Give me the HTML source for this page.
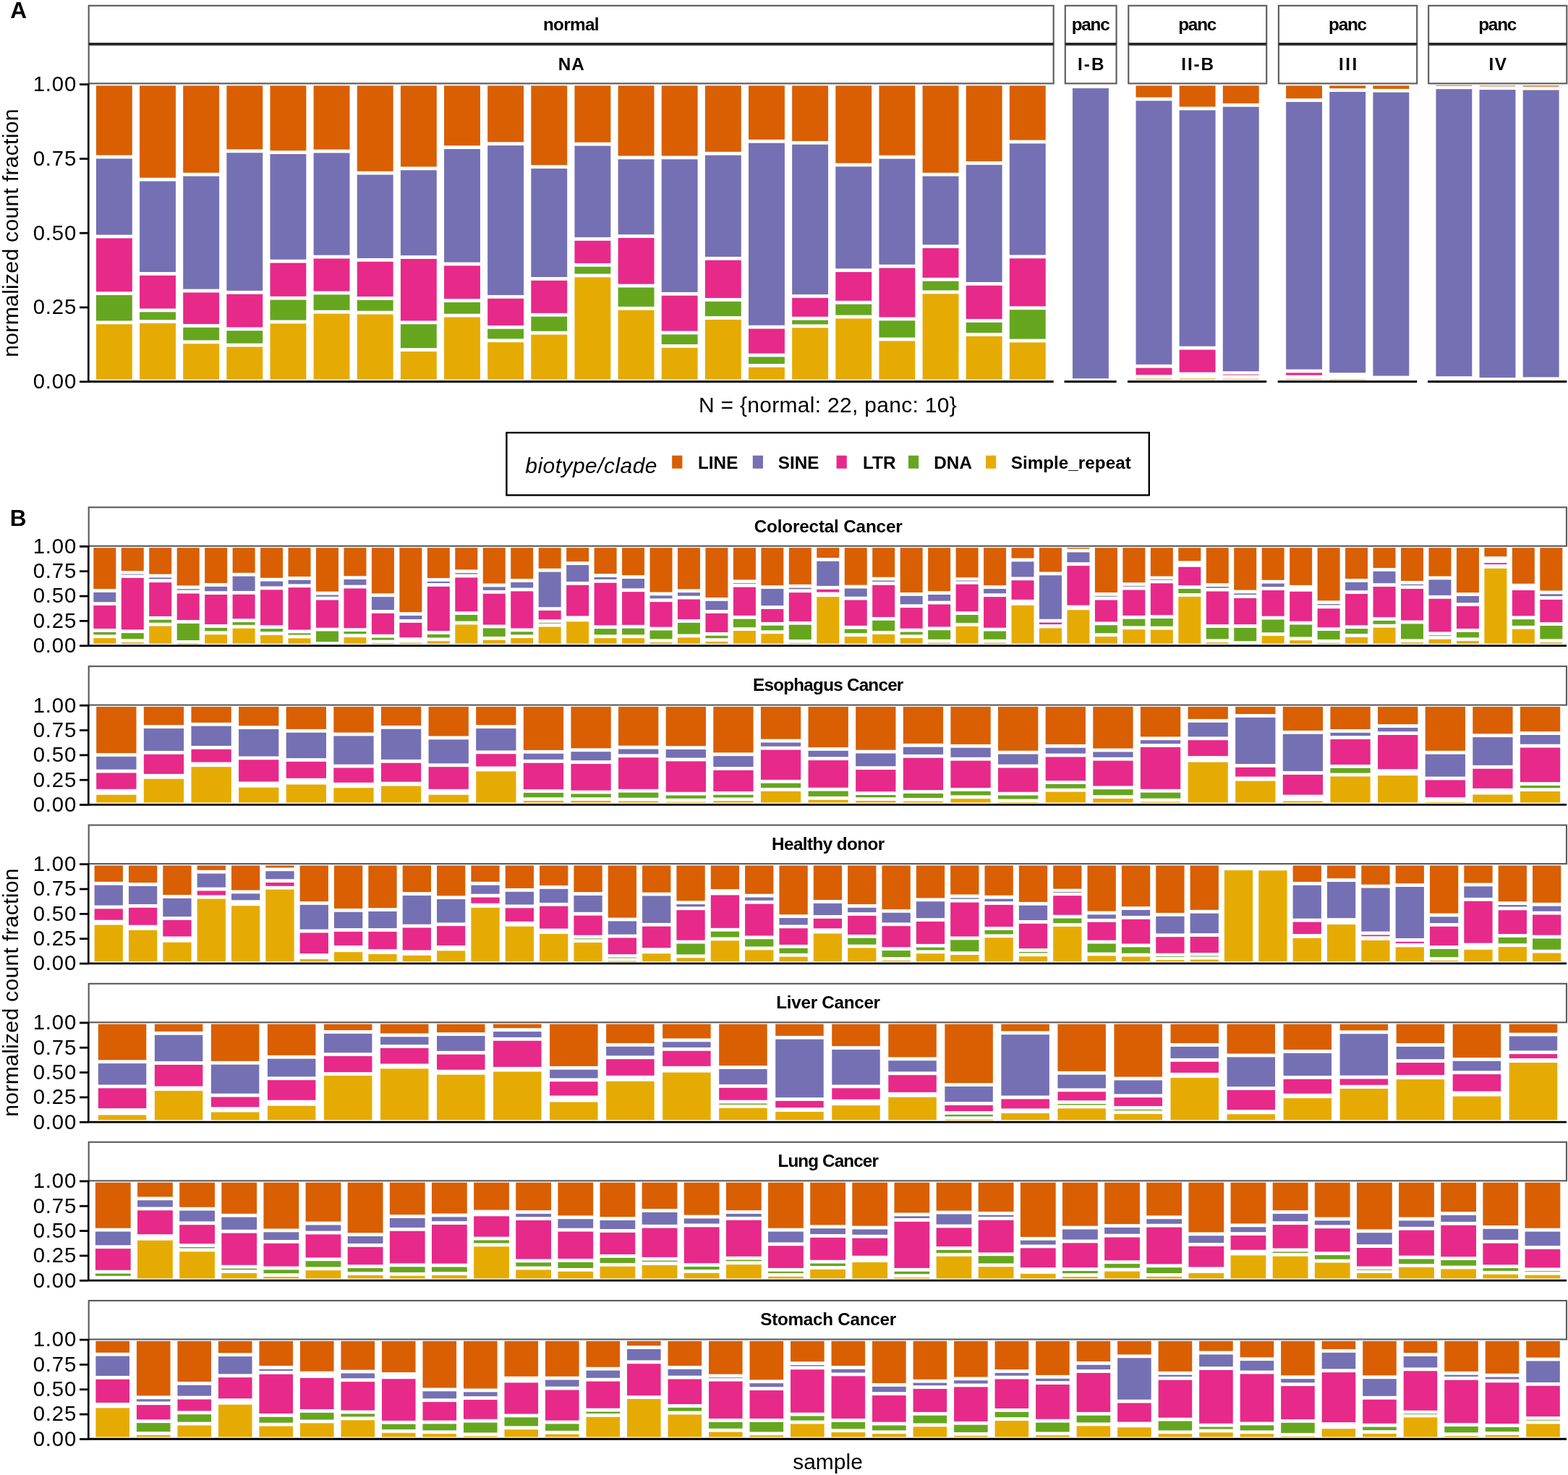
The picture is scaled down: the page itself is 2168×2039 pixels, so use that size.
<!DOCTYPE html>
<html><head><meta charset="utf-8"><title>Repeat element composition</title>
<style>html,body{margin:0;padding:0;background:#fff;}body{width:2168px;height:2039px;overflow:hidden;}svg{display:block;}</style>
</head><body>
<svg width="2168" height="2039" viewBox="0 0 2168 2039">
<rect x="0" y="0" width="2168" height="2039" fill="#ffffff"/>
<text x="14.2" y="24.9" font-family="'Liberation Sans', Arial, Helvetica, sans-serif" font-weight="bold" font-size="31.5">A</text>
<rect x="122.7" y="7.8" width="1334" height="52.4" fill="#fff" stroke="#5a5a5a" stroke-width="2.1"/>
<rect x="122.7" y="62.2" width="1334" height="53.2" fill="#fff" stroke="#5a5a5a" stroke-width="2.1"/>
<line x1="122.7" y1="60.6" x2="1456.7" y2="60.6" stroke="#222" stroke-width="2.6"/>
<text x="789.35" y="41.8" text-anchor="middle" font-family="'Liberation Sans', Arial, Helvetica, sans-serif" font-weight="bold" font-size="24.3" letter-spacing="-0.7">normal</text>
<text x="790.2" y="96.8" text-anchor="middle" font-family="'Liberation Sans', Arial, Helvetica, sans-serif" font-weight="bold" font-size="24.3" letter-spacing="1">NA</text>
<rect x="132.92" y="118.4" width="49.9" height="96.12" fill="#D95F02"/>
<rect x="132.92" y="219.32" width="49.9" height="105.26" fill="#7570B3"/>
<rect x="132.92" y="329.38" width="49.9" height="73.82" fill="#E7298A"/>
<rect x="132.92" y="408" width="49.9" height="35.41" fill="#66A61E"/>
<rect x="132.92" y="448.2" width="49.9" height="76.4" fill="#E6AB02"/>
<rect x="193.06" y="118.4" width="49.9" height="127.34" fill="#D95F02"/>
<rect x="193.06" y="250.54" width="49.9" height="125.48" fill="#7570B3"/>
<rect x="193.06" y="380.82" width="49.9" height="45.74" fill="#E7298A"/>
<rect x="193.06" y="431.36" width="49.9" height="10.7" fill="#66A61E"/>
<rect x="193.06" y="446.86" width="49.9" height="77.74" fill="#E6AB02"/>
<rect x="253.2" y="118.4" width="49.9" height="120.38" fill="#D95F02"/>
<rect x="253.2" y="243.58" width="49.9" height="156.03" fill="#7570B3"/>
<rect x="253.2" y="404.4" width="49.9" height="43.49" fill="#E7298A"/>
<rect x="253.2" y="452.7" width="49.9" height="17.66" fill="#66A61E"/>
<rect x="253.2" y="475.16" width="49.9" height="49.44" fill="#E6AB02"/>
<rect x="313.34" y="118.4" width="49.9" height="88.03" fill="#D95F02"/>
<rect x="313.34" y="211.23" width="49.9" height="190.62" fill="#7570B3"/>
<rect x="313.34" y="406.65" width="49.9" height="45.74" fill="#E7298A"/>
<rect x="313.34" y="457.19" width="49.9" height="17.44" fill="#66A61E"/>
<rect x="313.34" y="479.43" width="49.9" height="45.17" fill="#E6AB02"/>
<rect x="373.48" y="118.4" width="49.9" height="89.83" fill="#D95F02"/>
<rect x="373.48" y="213.03" width="49.9" height="145.69" fill="#7570B3"/>
<rect x="373.48" y="363.52" width="49.9" height="46.19" fill="#E7298A"/>
<rect x="373.48" y="414.51" width="49.9" height="27.99" fill="#66A61E"/>
<rect x="373.48" y="447.31" width="49.9" height="77.29" fill="#E6AB02"/>
<rect x="433.62" y="118.4" width="49.9" height="88.26" fill="#D95F02"/>
<rect x="433.62" y="211.46" width="49.9" height="141.2" fill="#7570B3"/>
<rect x="433.62" y="357.46" width="49.9" height="45.07" fill="#E7298A"/>
<rect x="433.62" y="407.32" width="49.9" height="21.48" fill="#66A61E"/>
<rect x="433.62" y="433.6" width="49.9" height="91" fill="#E6AB02"/>
<rect x="493.76" y="118.4" width="49.9" height="118.36" fill="#D95F02"/>
<rect x="493.76" y="241.56" width="49.9" height="115.37" fill="#7570B3"/>
<rect x="493.76" y="361.73" width="49.9" height="48.21" fill="#E7298A"/>
<rect x="493.76" y="414.74" width="49.9" height="14.97" fill="#66A61E"/>
<rect x="493.76" y="434.5" width="49.9" height="90.1" fill="#E6AB02"/>
<rect x="553.9" y="118.4" width="49.9" height="112.07" fill="#D95F02"/>
<rect x="553.9" y="235.27" width="49.9" height="117.84" fill="#7570B3"/>
<rect x="553.9" y="357.91" width="49.9" height="85.5" fill="#E7298A"/>
<rect x="553.9" y="448.2" width="49.9" height="32.94" fill="#66A61E"/>
<rect x="553.9" y="485.94" width="49.9" height="38.66" fill="#E6AB02"/>
<rect x="614.04" y="118.4" width="49.9" height="82.87" fill="#D95F02"/>
<rect x="614.04" y="206.07" width="49.9" height="156.48" fill="#7570B3"/>
<rect x="614.04" y="367.34" width="49.9" height="45.74" fill="#E7298A"/>
<rect x="614.04" y="417.88" width="49.9" height="15.86" fill="#66A61E"/>
<rect x="614.04" y="438.55" width="49.9" height="86.05" fill="#E6AB02"/>
<rect x="674.18" y="118.4" width="49.9" height="77.92" fill="#D95F02"/>
<rect x="674.18" y="201.12" width="49.9" height="206.79" fill="#7570B3"/>
<rect x="674.18" y="412.71" width="49.9" height="37.2" fill="#E7298A"/>
<rect x="674.18" y="454.72" width="49.9" height="13.62" fill="#66A61E"/>
<rect x="674.18" y="473.14" width="49.9" height="51.46" fill="#E6AB02"/>
<rect x="734.32" y="118.4" width="49.9" height="109.82" fill="#D95F02"/>
<rect x="734.32" y="233.02" width="49.9" height="149.96" fill="#7570B3"/>
<rect x="734.32" y="387.78" width="49.9" height="45.07" fill="#E7298A"/>
<rect x="734.32" y="437.65" width="49.9" height="20.13" fill="#66A61E"/>
<rect x="734.32" y="462.58" width="49.9" height="62.02" fill="#E6AB02"/>
<rect x="794.46" y="118.4" width="49.9" height="78.37" fill="#D95F02"/>
<rect x="794.46" y="201.57" width="49.9" height="126.38" fill="#7570B3"/>
<rect x="794.46" y="332.75" width="49.9" height="31.14" fill="#E7298A"/>
<rect x="794.46" y="368.69" width="49.9" height="9.8" fill="#66A61E"/>
<rect x="794.46" y="383.29" width="49.9" height="141.31" fill="#E6AB02"/>
<rect x="854.6" y="118.4" width="49.9" height="97.02" fill="#D95F02"/>
<rect x="854.6" y="220.22" width="49.9" height="103.92" fill="#7570B3"/>
<rect x="854.6" y="328.93" width="49.9" height="63.71" fill="#E7298A"/>
<rect x="854.6" y="397.44" width="49.9" height="26.42" fill="#66A61E"/>
<rect x="854.6" y="428.66" width="49.9" height="95.94" fill="#E6AB02"/>
<rect x="914.74" y="118.4" width="49.9" height="97.02" fill="#D95F02"/>
<rect x="914.74" y="220.22" width="49.9" height="183.65" fill="#7570B3"/>
<rect x="914.74" y="408.67" width="49.9" height="48.88" fill="#E7298A"/>
<rect x="914.74" y="462.36" width="49.9" height="13.62" fill="#66A61E"/>
<rect x="914.74" y="480.77" width="49.9" height="43.83" fill="#E6AB02"/>
<rect x="974.88" y="118.4" width="49.9" height="91.4" fill="#D95F02"/>
<rect x="974.88" y="214.6" width="49.9" height="140.3" fill="#7570B3"/>
<rect x="974.88" y="359.7" width="49.9" height="52.25" fill="#E7298A"/>
<rect x="974.88" y="416.76" width="49.9" height="20.36" fill="#66A61E"/>
<rect x="974.88" y="441.91" width="49.9" height="82.69" fill="#E6AB02"/>
<rect x="1035.02" y="118.4" width="49.9" height="74.55" fill="#D95F02"/>
<rect x="1035.02" y="197.75" width="49.9" height="251.94" fill="#7570B3"/>
<rect x="1035.02" y="454.49" width="49.9" height="34.06" fill="#E7298A"/>
<rect x="1035.02" y="493.35" width="49.9" height="9.58" fill="#66A61E"/>
<rect x="1035.02" y="507.73" width="49.9" height="16.87" fill="#E6AB02"/>
<rect x="1095.16" y="118.4" width="49.9" height="76.58" fill="#D95F02"/>
<rect x="1095.16" y="199.78" width="49.9" height="207.24" fill="#7570B3"/>
<rect x="1095.16" y="411.82" width="49.9" height="25.97" fill="#E7298A"/>
<rect x="1095.16" y="442.59" width="49.9" height="5.76" fill="#66A61E"/>
<rect x="1095.16" y="453.15" width="49.9" height="71.45" fill="#E6AB02"/>
<rect x="1155.3" y="118.4" width="49.9" height="107.12" fill="#D95F02"/>
<rect x="1155.3" y="230.32" width="49.9" height="140.98" fill="#7570B3"/>
<rect x="1155.3" y="376.1" width="49.9" height="39.67" fill="#E7298A"/>
<rect x="1155.3" y="420.58" width="49.9" height="14.97" fill="#66A61E"/>
<rect x="1155.3" y="440.34" width="49.9" height="84.26" fill="#E6AB02"/>
<rect x="1215.44" y="118.4" width="49.9" height="96.34" fill="#D95F02"/>
<rect x="1215.44" y="219.54" width="49.9" height="146.14" fill="#7570B3"/>
<rect x="1215.44" y="370.49" width="49.9" height="67.98" fill="#E7298A"/>
<rect x="1215.44" y="443.26" width="49.9" height="23.28" fill="#66A61E"/>
<rect x="1215.44" y="471.34" width="49.9" height="53.26" fill="#E6AB02"/>
<rect x="1275.58" y="118.4" width="49.9" height="120.38" fill="#D95F02"/>
<rect x="1275.58" y="243.58" width="49.9" height="94.71" fill="#7570B3"/>
<rect x="1275.58" y="343.08" width="49.9" height="40.8" fill="#E7298A"/>
<rect x="1275.58" y="388.68" width="49.9" height="12.72" fill="#66A61E"/>
<rect x="1275.58" y="406.2" width="49.9" height="118.4" fill="#E6AB02"/>
<rect x="1335.72" y="118.4" width="49.9" height="104.65" fill="#D95F02"/>
<rect x="1335.72" y="227.85" width="49.9" height="162.09" fill="#7570B3"/>
<rect x="1335.72" y="394.75" width="49.9" height="46.19" fill="#E7298A"/>
<rect x="1335.72" y="445.73" width="49.9" height="14.29" fill="#66A61E"/>
<rect x="1335.72" y="464.83" width="49.9" height="59.77" fill="#E6AB02"/>
<rect x="1395.86" y="118.4" width="49.9" height="75.23" fill="#D95F02"/>
<rect x="1395.86" y="198.43" width="49.9" height="154.01" fill="#7570B3"/>
<rect x="1395.86" y="357.23" width="49.9" height="66.18" fill="#E7298A"/>
<rect x="1395.86" y="428.21" width="49.9" height="40.35" fill="#66A61E"/>
<rect x="1395.86" y="473.36" width="49.9" height="51.24" fill="#E6AB02"/>
<line x1="121.5" y1="527.5" x2="1456.7" y2="527.5" stroke="#000" stroke-width="2.9"/>
<rect x="1472.8" y="7.8" width="70.8" height="52.4" fill="#fff" stroke="#5a5a5a" stroke-width="2.1"/>
<rect x="1472.8" y="62.2" width="70.8" height="53.2" fill="#fff" stroke="#5a5a5a" stroke-width="2.1"/>
<line x1="1472.8" y1="60.6" x2="1543.6" y2="60.6" stroke="#222" stroke-width="2.6"/>
<text x="1507.6" y="41.8" text-anchor="middle" font-family="'Liberation Sans', Arial, Helvetica, sans-serif" font-weight="bold" font-size="24.3" letter-spacing="-1.2">panc</text>
<text x="1509.25" y="96.8" text-anchor="middle" font-family="'Liberation Sans', Arial, Helvetica, sans-serif" font-weight="bold" font-size="24.3" letter-spacing="2.1">I-B</text>
<rect x="1483.02" y="122.06" width="49.9" height="401.08" fill="#7570B3"/>
<line x1="1471.6" y1="527.5" x2="1543.6" y2="527.5" stroke="#000" stroke-width="2.9"/>
<rect x="1560.3" y="7.8" width="190.9" height="52.4" fill="#fff" stroke="#5a5a5a" stroke-width="2.1"/>
<rect x="1560.3" y="62.2" width="190.9" height="53.2" fill="#fff" stroke="#5a5a5a" stroke-width="2.1"/>
<line x1="1560.3" y1="60.6" x2="1751.2" y2="60.6" stroke="#222" stroke-width="2.6"/>
<text x="1655.15" y="41.8" text-anchor="middle" font-family="'Liberation Sans', Arial, Helvetica, sans-serif" font-weight="bold" font-size="24.3" letter-spacing="-1.2">panc</text>
<text x="1656.7" y="96.8" text-anchor="middle" font-family="'Liberation Sans', Arial, Helvetica, sans-serif" font-weight="bold" font-size="24.3" letter-spacing="1.9">II-B</text>
<rect x="1570.52" y="118.4" width="49.9" height="16.15" fill="#D95F02"/>
<rect x="1570.52" y="139.35" width="49.9" height="364.47" fill="#7570B3"/>
<rect x="1570.52" y="508.63" width="49.9" height="9.58" fill="#E7298A"/>
<rect x="1570.52" y="523.45" width="49.9" height="1.15" fill="#E6AB02"/>
<rect x="1630.66" y="118.4" width="49.9" height="29.18" fill="#D95F02"/>
<rect x="1630.66" y="152.38" width="49.9" height="326.29" fill="#7570B3"/>
<rect x="1630.66" y="483.47" width="49.9" height="31.14" fill="#E7298A"/>
<rect x="1630.66" y="523.45" width="49.9" height="1.15" fill="#E6AB02"/>
<rect x="1690.8" y="118.4" width="49.9" height="24.47" fill="#D95F02"/>
<rect x="1690.8" y="147.67" width="49.9" height="365.6" fill="#7570B3"/>
<rect x="1690.8" y="517.53" width="49.9" height="1.2" fill="#E7298A" opacity="0.75"/>
<rect x="1690.8" y="523.65" width="49.9" height="1.2" fill="#E6AB02" opacity="0.75"/>
<line x1="1559.1" y1="527.5" x2="1751.2" y2="527.5" stroke="#000" stroke-width="2.9"/>
<rect x="1767.9" y="7.8" width="191.3" height="52.4" fill="#fff" stroke="#5a5a5a" stroke-width="2.1"/>
<rect x="1767.9" y="62.2" width="191.3" height="53.2" fill="#fff" stroke="#5a5a5a" stroke-width="2.1"/>
<line x1="1767.9" y1="60.6" x2="1959.2" y2="60.6" stroke="#222" stroke-width="2.6"/>
<text x="1862.95" y="41.8" text-anchor="middle" font-family="'Liberation Sans', Arial, Helvetica, sans-serif" font-weight="bold" font-size="24.3" letter-spacing="-1.2">panc</text>
<text x="1864.8" y="96.8" text-anchor="middle" font-family="'Liberation Sans', Arial, Helvetica, sans-serif" font-weight="bold" font-size="24.3" letter-spacing="2.5">III</text>
<rect x="1778.12" y="118.4" width="49.9" height="17.73" fill="#D95F02"/>
<rect x="1778.12" y="140.93" width="49.9" height="369.64" fill="#7570B3"/>
<rect x="1778.12" y="515.36" width="49.9" height="3.29" fill="#E7298A"/>
<rect x="1778.12" y="523.87" width="49.9" height="1.2" fill="#E6AB02" opacity="0.75"/>
<rect x="1838.26" y="118.4" width="49.9" height="3.8" fill="#D95F02"/>
<rect x="1838.26" y="127" width="49.9" height="388.28" fill="#7570B3"/>
<rect x="1838.26" y="524.1" width="49.9" height="1.2" fill="#E6AB02" opacity="0.75"/>
<rect x="1898.4" y="118.4" width="49.9" height="4.47" fill="#D95F02"/>
<rect x="1898.4" y="127.67" width="49.9" height="391.88" fill="#7570B3"/>
<line x1="1766.7" y1="527.5" x2="1959.2" y2="527.5" stroke="#000" stroke-width="2.9"/>
<rect x="1975.2" y="7.8" width="191.1" height="52.4" fill="#fff" stroke="#5a5a5a" stroke-width="2.1"/>
<rect x="1975.2" y="62.2" width="191.1" height="53.2" fill="#fff" stroke="#5a5a5a" stroke-width="2.1"/>
<line x1="1975.2" y1="60.6" x2="2166.3" y2="60.6" stroke="#222" stroke-width="2.6"/>
<text x="2070.15" y="41.8" text-anchor="middle" font-family="'Liberation Sans', Arial, Helvetica, sans-serif" font-weight="bold" font-size="24.3" letter-spacing="-1.2">panc</text>
<text x="2071.55" y="96.8" text-anchor="middle" font-family="'Liberation Sans', Arial, Helvetica, sans-serif" font-weight="bold" font-size="24.3" letter-spacing="1.6">IV</text>
<rect x="1985.42" y="117.79" width="49.9" height="1.2" fill="#D95F02" opacity="0.75"/>
<rect x="1985.42" y="123.18" width="49.9" height="397.04" fill="#7570B3"/>
<rect x="2045.56" y="118.24" width="49.9" height="1.2" fill="#D95F02" opacity="0.75"/>
<rect x="2045.56" y="124.08" width="49.9" height="397.94" fill="#7570B3"/>
<rect x="2105.7" y="118.4" width="49.9" height="1.33" fill="#D95F02"/>
<rect x="2105.7" y="124.53" width="49.9" height="396.82" fill="#7570B3"/>
<line x1="1974" y1="527.5" x2="2166.3" y2="527.5" stroke="#000" stroke-width="2.9"/>
<line x1="122.3" y1="115.5" x2="122.3" y2="528.3" stroke="#000" stroke-width="2.6"/>
<line x1="110" y1="527.7" x2="122" y2="527.7" stroke="#000" stroke-width="2.8"/>
<text x="106" y="537" text-anchor="end" font-family="'Liberation Sans', Arial, Helvetica, sans-serif" font-size="29.3" letter-spacing="0.8">0.00</text>
<line x1="110" y1="424.95" x2="122" y2="424.95" stroke="#000" stroke-width="2.8"/>
<text x="106" y="434.25" text-anchor="end" font-family="'Liberation Sans', Arial, Helvetica, sans-serif" font-size="29.3" letter-spacing="0.8">0.25</text>
<line x1="110" y1="322.2" x2="122" y2="322.2" stroke="#000" stroke-width="2.8"/>
<text x="106" y="331.5" text-anchor="end" font-family="'Liberation Sans', Arial, Helvetica, sans-serif" font-size="29.3" letter-spacing="0.8">0.50</text>
<line x1="110" y1="219.45" x2="122" y2="219.45" stroke="#000" stroke-width="2.8"/>
<text x="106" y="228.75" text-anchor="end" font-family="'Liberation Sans', Arial, Helvetica, sans-serif" font-size="29.3" letter-spacing="0.8">0.75</text>
<line x1="110" y1="116.7" x2="122" y2="116.7" stroke="#000" stroke-width="2.8"/>
<text x="106" y="126" text-anchor="end" font-family="'Liberation Sans', Arial, Helvetica, sans-serif" font-size="29.3" letter-spacing="0.8">1.00</text>
<text transform="translate(25.0,322.0) rotate(-90)" text-anchor="middle" font-family="'Liberation Sans', Arial, Helvetica, sans-serif" font-size="30.3" letter-spacing="0.2">normalized count fraction</text>
<text x="1144.5" y="569.6" text-anchor="middle" font-family="'Liberation Sans', Arial, Helvetica, sans-serif" font-size="30" letter-spacing="0.3">N = {normal: 22, panc: 10}</text>
<rect x="700.4" y="598.1" width="888.4" height="86.4" fill="#fff" stroke="#000" stroke-width="2.4"/>
<text x="726.3" y="653.8" font-family="'Liberation Sans', Arial, Helvetica, sans-serif" font-style="italic" font-size="30" letter-spacing="0.45">biotype/clade</text>
<rect x="929.2" y="629.7" width="14.2" height="18" fill="#D95F02"/>
<text x="965" y="647.5" font-family="'Liberation Sans', Arial, Helvetica, sans-serif" font-weight="bold" font-size="24.3">LINE</text>
<rect x="1040.8" y="629.7" width="14.2" height="18" fill="#7570B3"/>
<text x="1075.7" y="647.5" font-family="'Liberation Sans', Arial, Helvetica, sans-serif" font-weight="bold" font-size="24.3">SINE</text>
<rect x="1156.6" y="629.7" width="14.2" height="18" fill="#E7298A"/>
<text x="1193" y="647.5" font-family="'Liberation Sans', Arial, Helvetica, sans-serif" font-weight="bold" font-size="24.3">LTR</text>
<rect x="1256" y="629.7" width="14.2" height="18" fill="#66A61E"/>
<text x="1291.3" y="647.5" font-family="'Liberation Sans', Arial, Helvetica, sans-serif" font-weight="bold" font-size="24.3">DNA</text>
<rect x="1363" y="629.7" width="14.2" height="18" fill="#E6AB02"/>
<text x="1397.7" y="647.5" font-family="'Liberation Sans', Arial, Helvetica, sans-serif" font-weight="bold" font-size="24.3">Simple_repeat</text>
<text x="13.8" y="726.8" font-family="'Liberation Sans', Arial, Helvetica, sans-serif" font-weight="bold" font-size="31.5">B</text>
<rect x="122.7" y="701.3" width="2043.3" height="53.5" fill="#fff" stroke="#5a5a5a" stroke-width="2.1"/>
<text x="1145.11" y="735.6" text-anchor="middle" font-family="'Liberation Sans', Arial, Helvetica, sans-serif" font-weight="bold" font-size="24.3" letter-spacing="-0.19">Colorectal Cancer</text>
<rect x="129.3" y="757.2" width="31" height="56.9" fill="#D95F02"/>
<rect x="129.3" y="818.9" width="31" height="13.33" fill="#7570B3"/>
<rect x="129.3" y="837.04" width="31" height="31.99" fill="#E7298A"/>
<rect x="129.3" y="873.82" width="31" height="3.49" fill="#66A61E"/>
<rect x="129.3" y="882.12" width="31" height="7.63" fill="#E6AB02"/>
<rect x="167.76" y="757.2" width="31" height="32.03" fill="#D95F02"/>
<rect x="167.76" y="793.49" width="31" height="1.2" fill="#7570B3" opacity="0.75"/>
<rect x="167.76" y="798.95" width="31" height="71.37" fill="#E7298A"/>
<rect x="167.76" y="875.12" width="31" height="8.15" fill="#66A61E"/>
<rect x="167.76" y="888.07" width="31" height="1.68" fill="#E6AB02"/>
<rect x="206.22" y="757.2" width="31" height="36.44" fill="#D95F02"/>
<rect x="206.22" y="798.44" width="31" height="1.94" fill="#7570B3"/>
<rect x="206.22" y="805.17" width="31" height="46.75" fill="#E7298A"/>
<rect x="206.22" y="856.73" width="31" height="4.01" fill="#66A61E"/>
<rect x="206.22" y="865.53" width="31" height="24.22" fill="#E6AB02"/>
<rect x="244.68" y="757.2" width="31" height="52.24" fill="#D95F02"/>
<rect x="244.68" y="814.24" width="31" height="1.42" fill="#7570B3"/>
<rect x="244.68" y="820.46" width="31" height="36.65" fill="#E7298A"/>
<rect x="244.68" y="861.91" width="31" height="23.18" fill="#66A61E"/>
<rect x="244.68" y="889.22" width="31" height="1.2" fill="#E6AB02" opacity="0.75"/>
<rect x="283.15" y="757.2" width="31" height="48.87" fill="#D95F02"/>
<rect x="283.15" y="810.87" width="31" height="6.34" fill="#7570B3"/>
<rect x="283.15" y="822.01" width="31" height="41.05" fill="#E7298A"/>
<rect x="283.15" y="867.87" width="31" height="4.53" fill="#66A61E"/>
<rect x="283.15" y="877.19" width="31" height="12.56" fill="#E6AB02"/>
<rect x="321.61" y="757.2" width="31" height="34.62" fill="#D95F02"/>
<rect x="321.61" y="796.62" width="31" height="20.33" fill="#7570B3"/>
<rect x="321.61" y="821.75" width="31" height="33.54" fill="#E7298A"/>
<rect x="321.61" y="860.09" width="31" height="3.75" fill="#66A61E"/>
<rect x="321.61" y="868.64" width="31" height="21.11" fill="#E6AB02"/>
<rect x="360.07" y="757.2" width="31" height="41.62" fill="#D95F02"/>
<rect x="360.07" y="803.62" width="31" height="6.86" fill="#7570B3"/>
<rect x="360.07" y="815.28" width="31" height="49.09" fill="#E7298A"/>
<rect x="360.07" y="869.16" width="31" height="4.01" fill="#66A61E"/>
<rect x="360.07" y="877.97" width="31" height="11.78" fill="#E6AB02"/>
<rect x="398.53" y="757.2" width="31" height="39.8" fill="#D95F02"/>
<rect x="398.53" y="801.8" width="31" height="5.56" fill="#7570B3"/>
<rect x="398.53" y="812.17" width="31" height="58.41" fill="#E7298A"/>
<rect x="398.53" y="875.38" width="31" height="2.19" fill="#66A61E"/>
<rect x="398.53" y="882.37" width="31" height="7.38" fill="#E6AB02"/>
<rect x="436.99" y="757.2" width="31" height="60.53" fill="#D95F02"/>
<rect x="436.99" y="822.53" width="31" height="2.19" fill="#7570B3"/>
<rect x="436.99" y="829.52" width="31" height="38.21" fill="#E7298A"/>
<rect x="436.99" y="872.53" width="31" height="14.63" fill="#66A61E"/>
<rect x="475.45" y="757.2" width="31" height="39.03" fill="#D95F02"/>
<rect x="475.45" y="801.03" width="31" height="7.64" fill="#7570B3"/>
<rect x="475.45" y="813.46" width="31" height="54.79" fill="#E7298A"/>
<rect x="475.45" y="873.05" width="31" height="3.23" fill="#66A61E"/>
<rect x="475.45" y="881.08" width="31" height="8.67" fill="#E6AB02"/>
<rect x="513.92" y="757.2" width="31" height="63.12" fill="#D95F02"/>
<rect x="513.92" y="825.12" width="31" height="18" fill="#7570B3"/>
<rect x="513.92" y="847.92" width="31" height="28.88" fill="#E7298A"/>
<rect x="513.92" y="881.6" width="31" height="2.97" fill="#66A61E"/>
<rect x="513.92" y="888.96" width="31" height="1.2" fill="#E6AB02" opacity="0.75"/>
<rect x="552.38" y="757.2" width="31" height="89.03" fill="#D95F02"/>
<rect x="552.38" y="851.03" width="31" height="5.04" fill="#7570B3"/>
<rect x="552.38" y="860.87" width="31" height="20.33" fill="#E7298A"/>
<rect x="552.38" y="888.59" width="31" height="1.16" fill="#E6AB02"/>
<rect x="590.84" y="757.2" width="31" height="41.88" fill="#D95F02"/>
<rect x="590.84" y="803.88" width="31" height="2.19" fill="#7570B3"/>
<rect x="590.84" y="810.87" width="31" height="61.26" fill="#E7298A"/>
<rect x="590.84" y="876.93" width="31" height="4.53" fill="#66A61E"/>
<rect x="590.84" y="886.26" width="31" height="3.49" fill="#E6AB02"/>
<rect x="629.3" y="757.2" width="31" height="30.22" fill="#D95F02"/>
<rect x="629.3" y="792.22" width="31" height="1.42" fill="#7570B3"/>
<rect x="629.3" y="798.44" width="31" height="46.75" fill="#E7298A"/>
<rect x="629.3" y="849.99" width="31" height="8.67" fill="#66A61E"/>
<rect x="629.3" y="863.46" width="31" height="26.29" fill="#E6AB02"/>
<rect x="667.76" y="757.2" width="31" height="49.39" fill="#D95F02"/>
<rect x="667.76" y="811.39" width="31" height="4.53" fill="#7570B3"/>
<rect x="667.76" y="820.72" width="31" height="42.87" fill="#E7298A"/>
<rect x="667.76" y="868.38" width="31" height="11.52" fill="#66A61E"/>
<rect x="667.76" y="884.71" width="31" height="5.04" fill="#E6AB02"/>
<rect x="706.22" y="757.2" width="31" height="42.91" fill="#D95F02"/>
<rect x="706.22" y="804.91" width="31" height="7.64" fill="#7570B3"/>
<rect x="706.22" y="817.35" width="31" height="51.16" fill="#E7298A"/>
<rect x="706.22" y="873.31" width="31" height="4.01" fill="#66A61E"/>
<rect x="706.22" y="882.12" width="31" height="7.63" fill="#E6AB02"/>
<rect x="744.68" y="757.2" width="31" height="28.66" fill="#D95F02"/>
<rect x="744.68" y="790.66" width="31" height="48.57" fill="#7570B3"/>
<rect x="744.68" y="844.03" width="31" height="12.3" fill="#E7298A"/>
<rect x="744.68" y="860.85" width="31" height="1.2" fill="#66A61E" opacity="0.75"/>
<rect x="744.68" y="866.57" width="31" height="23.18" fill="#E6AB02"/>
<rect x="783.15" y="757.2" width="31" height="19.08" fill="#D95F02"/>
<rect x="783.15" y="781.08" width="31" height="22.92" fill="#7570B3"/>
<rect x="783.15" y="808.8" width="31" height="42.61" fill="#E7298A"/>
<rect x="783.15" y="859.32" width="31" height="30.43" fill="#E6AB02"/>
<rect x="821.61" y="757.2" width="31" height="35.92" fill="#D95F02"/>
<rect x="821.61" y="797.92" width="31" height="2.97" fill="#7570B3"/>
<rect x="821.61" y="805.69" width="31" height="58.67" fill="#E7298A"/>
<rect x="821.61" y="869.16" width="31" height="8.15" fill="#66A61E"/>
<rect x="821.61" y="882.12" width="31" height="7.63" fill="#E6AB02"/>
<rect x="860.07" y="757.2" width="31" height="37.99" fill="#D95F02"/>
<rect x="860.07" y="799.99" width="31" height="13.33" fill="#7570B3"/>
<rect x="860.07" y="818.13" width="31" height="45.72" fill="#E7298A"/>
<rect x="860.07" y="868.64" width="31" height="8.67" fill="#66A61E"/>
<rect x="860.07" y="882.12" width="31" height="7.63" fill="#E6AB02"/>
<rect x="898.53" y="757.2" width="31" height="61.31" fill="#D95F02"/>
<rect x="898.53" y="823.31" width="31" height="4.01" fill="#7570B3"/>
<rect x="898.53" y="832.12" width="31" height="34.58" fill="#E7298A"/>
<rect x="898.53" y="871.49" width="31" height="11.78" fill="#66A61E"/>
<rect x="898.53" y="888.07" width="31" height="1.68" fill="#E6AB02"/>
<rect x="936.99" y="757.2" width="31" height="57.16" fill="#D95F02"/>
<rect x="936.99" y="819.16" width="31" height="4.53" fill="#7570B3"/>
<rect x="936.99" y="828.49" width="31" height="27.58" fill="#E7298A"/>
<rect x="936.99" y="860.87" width="31" height="15.67" fill="#66A61E"/>
<rect x="936.99" y="881.34" width="31" height="8.41" fill="#E6AB02"/>
<rect x="975.45" y="757.2" width="31" height="68.82" fill="#D95F02"/>
<rect x="975.45" y="830.82" width="31" height="12.3" fill="#7570B3"/>
<rect x="975.45" y="847.92" width="31" height="26.03" fill="#E7298A"/>
<rect x="975.45" y="878.75" width="31" height="3.49" fill="#66A61E"/>
<rect x="975.45" y="887.04" width="31" height="2.71" fill="#E6AB02"/>
<rect x="1013.92" y="757.2" width="31" height="44.21" fill="#D95F02"/>
<rect x="1013.92" y="805.93" width="31" height="1.2" fill="#7570B3" opacity="0.75"/>
<rect x="1013.92" y="811.65" width="31" height="39.24" fill="#E7298A"/>
<rect x="1013.92" y="855.69" width="31" height="11.52" fill="#66A61E"/>
<rect x="1013.92" y="872.01" width="31" height="17.74" fill="#E6AB02"/>
<rect x="1052.38" y="757.2" width="31" height="51.98" fill="#D95F02"/>
<rect x="1052.38" y="813.98" width="31" height="23.18" fill="#7570B3"/>
<rect x="1052.38" y="841.96" width="31" height="18" fill="#E7298A"/>
<rect x="1052.38" y="864.76" width="31" height="6.6" fill="#66A61E"/>
<rect x="1052.38" y="876.16" width="31" height="13.59" fill="#E6AB02"/>
<rect x="1090.84" y="757.2" width="31" height="50.68" fill="#D95F02"/>
<rect x="1090.84" y="812.68" width="31" height="1.68" fill="#7570B3"/>
<rect x="1090.84" y="819.16" width="31" height="39.76" fill="#E7298A"/>
<rect x="1090.84" y="863.72" width="31" height="20.33" fill="#66A61E"/>
<rect x="1090.84" y="888.7" width="31" height="1.2" fill="#E6AB02" opacity="0.75"/>
<rect x="1129.3" y="757.2" width="31" height="13.9" fill="#D95F02"/>
<rect x="1129.3" y="775.9" width="31" height="34.06" fill="#7570B3"/>
<rect x="1129.3" y="814.76" width="31" height="3.75" fill="#E7298A"/>
<rect x="1129.3" y="825.12" width="31" height="64.63" fill="#E6AB02"/>
<rect x="1167.76" y="757.2" width="31" height="51.46" fill="#D95F02"/>
<rect x="1167.76" y="813.46" width="31" height="11.26" fill="#7570B3"/>
<rect x="1167.76" y="829.52" width="31" height="35.36" fill="#E7298A"/>
<rect x="1167.76" y="869.68" width="31" height="5.56" fill="#66A61E"/>
<rect x="1167.76" y="880.04" width="31" height="9.71" fill="#E6AB02"/>
<rect x="1206.22" y="757.2" width="31" height="40.58" fill="#D95F02"/>
<rect x="1206.22" y="802.58" width="31" height="1.42" fill="#7570B3"/>
<rect x="1206.22" y="808.8" width="31" height="44.16" fill="#E7298A"/>
<rect x="1206.22" y="857.76" width="31" height="14.37" fill="#66A61E"/>
<rect x="1206.22" y="876.93" width="31" height="12.82" fill="#E6AB02"/>
<rect x="1244.68" y="757.2" width="31" height="61.82" fill="#D95F02"/>
<rect x="1244.68" y="823.82" width="31" height="11.52" fill="#7570B3"/>
<rect x="1244.68" y="840.15" width="31" height="28.62" fill="#E7298A"/>
<rect x="1244.68" y="873.57" width="31" height="3.75" fill="#66A61E"/>
<rect x="1244.68" y="882.12" width="31" height="7.63" fill="#E6AB02"/>
<rect x="1283.15" y="757.2" width="31" height="60.01" fill="#D95F02"/>
<rect x="1283.15" y="822.01" width="31" height="8.67" fill="#7570B3"/>
<rect x="1283.15" y="835.48" width="31" height="30.95" fill="#E7298A"/>
<rect x="1283.15" y="871.23" width="31" height="12.56" fill="#66A61E"/>
<rect x="1283.15" y="888.59" width="31" height="1.16" fill="#E6AB02"/>
<rect x="1321.61" y="757.2" width="31" height="41.1" fill="#D95F02"/>
<rect x="1321.61" y="802.43" width="31" height="1.2" fill="#7570B3" opacity="0.75"/>
<rect x="1321.61" y="807.76" width="31" height="37.43" fill="#E7298A"/>
<rect x="1321.61" y="849.99" width="31" height="11" fill="#66A61E"/>
<rect x="1321.61" y="865.79" width="31" height="23.96" fill="#E6AB02"/>
<rect x="1360.07" y="757.2" width="31" height="51.98" fill="#D95F02"/>
<rect x="1360.07" y="813.98" width="31" height="6.34" fill="#7570B3"/>
<rect x="1360.07" y="825.12" width="31" height="42.61" fill="#E7298A"/>
<rect x="1360.07" y="872.53" width="31" height="11.26" fill="#66A61E"/>
<rect x="1360.07" y="888.59" width="31" height="1.16" fill="#E6AB02"/>
<rect x="1398.53" y="757.2" width="31" height="14.42" fill="#D95F02"/>
<rect x="1398.53" y="776.42" width="31" height="21.11" fill="#7570B3"/>
<rect x="1398.53" y="802.32" width="31" height="26.55" fill="#E7298A"/>
<rect x="1398.53" y="836.78" width="31" height="52.97" fill="#E6AB02"/>
<rect x="1436.99" y="757.2" width="31" height="33.33" fill="#D95F02"/>
<rect x="1436.99" y="795.33" width="31" height="60.48" fill="#7570B3"/>
<rect x="1436.99" y="860.61" width="31" height="2.45" fill="#E7298A"/>
<rect x="1436.99" y="868.38" width="31" height="21.37" fill="#E6AB02"/>
<rect x="1475.45" y="757.2" width="31" height="1.46" fill="#D95F02"/>
<rect x="1475.45" y="763.46" width="31" height="13.85" fill="#7570B3"/>
<rect x="1475.45" y="782.12" width="31" height="54.53" fill="#E7298A"/>
<rect x="1475.45" y="843.25" width="31" height="46.5" fill="#E6AB02"/>
<rect x="1513.92" y="757.2" width="31" height="61.82" fill="#D95F02"/>
<rect x="1513.92" y="823.67" width="31" height="1.2" fill="#7570B3" opacity="0.75"/>
<rect x="1513.92" y="829.52" width="31" height="29.92" fill="#E7298A"/>
<rect x="1513.92" y="864.24" width="31" height="11" fill="#66A61E"/>
<rect x="1513.92" y="880.04" width="31" height="9.71" fill="#E6AB02"/>
<rect x="1552.38" y="757.2" width="31" height="48.09" fill="#D95F02"/>
<rect x="1552.38" y="809.81" width="31" height="1.2" fill="#7570B3" opacity="0.75"/>
<rect x="1552.38" y="815.53" width="31" height="35.36" fill="#E7298A"/>
<rect x="1552.38" y="855.69" width="31" height="9.71" fill="#66A61E"/>
<rect x="1552.38" y="870.2" width="31" height="19.55" fill="#E6AB02"/>
<rect x="1590.84" y="757.2" width="31" height="39.36" fill="#D95F02"/>
<rect x="1590.84" y="800.85" width="31" height="1.2" fill="#7570B3" opacity="0.75"/>
<rect x="1590.84" y="806.34" width="31" height="43.88" fill="#E7298A"/>
<rect x="1590.84" y="855.02" width="31" height="10.74" fill="#66A61E"/>
<rect x="1590.84" y="870.57" width="31" height="19.18" fill="#E6AB02"/>
<rect x="1629.3" y="757.2" width="31" height="18.24" fill="#D95F02"/>
<rect x="1629.3" y="783.76" width="31" height="25.41" fill="#E7298A"/>
<rect x="1629.3" y="813.97" width="31" height="6.05" fill="#66A61E"/>
<rect x="1629.3" y="824.82" width="31" height="64.93" fill="#E6AB02"/>
<rect x="1667.76" y="757.2" width="31" height="49.04" fill="#D95F02"/>
<rect x="1667.76" y="811.04" width="31" height="1.65" fill="#7570B3"/>
<rect x="1667.76" y="817.49" width="31" height="45.64" fill="#E7298A"/>
<rect x="1667.76" y="867.93" width="31" height="15.43" fill="#66A61E"/>
<rect x="1667.76" y="888.16" width="31" height="1.59" fill="#E6AB02"/>
<rect x="1706.22" y="757.2" width="31" height="58.42" fill="#D95F02"/>
<rect x="1706.22" y="820.42" width="31" height="1.65" fill="#7570B3"/>
<rect x="1706.22" y="826.87" width="31" height="36.26" fill="#E7298A"/>
<rect x="1706.22" y="867.93" width="31" height="18.37" fill="#66A61E"/>
<rect x="1744.68" y="757.2" width="31" height="44.64" fill="#D95F02"/>
<rect x="1744.68" y="806.64" width="31" height="4.58" fill="#7570B3"/>
<rect x="1744.68" y="816.02" width="31" height="35.67" fill="#E7298A"/>
<rect x="1744.68" y="856.49" width="31" height="17.78" fill="#66A61E"/>
<rect x="1744.68" y="879.07" width="31" height="10.68" fill="#E6AB02"/>
<rect x="1783.15" y="757.2" width="31" height="51.68" fill="#D95F02"/>
<rect x="1783.15" y="817.78" width="31" height="40.95" fill="#E7298A"/>
<rect x="1783.15" y="863.53" width="31" height="16.9" fill="#66A61E"/>
<rect x="1783.15" y="885.23" width="31" height="4.52" fill="#E6AB02"/>
<rect x="1821.61" y="757.2" width="31" height="73.08" fill="#D95F02"/>
<rect x="1821.61" y="835.08" width="31" height="1.36" fill="#7570B3"/>
<rect x="1821.61" y="841.24" width="31" height="25.99" fill="#E7298A"/>
<rect x="1821.61" y="872.03" width="31" height="11.92" fill="#66A61E"/>
<rect x="1821.61" y="888.75" width="31" height="1" fill="#E6AB02"/>
<rect x="1860.07" y="757.2" width="31" height="42.88" fill="#D95F02"/>
<rect x="1860.07" y="804.88" width="31" height="11.33" fill="#7570B3"/>
<rect x="1860.07" y="821.01" width="31" height="43.29" fill="#E7298A"/>
<rect x="1860.07" y="869.1" width="31" height="6.93" fill="#66A61E"/>
<rect x="1860.07" y="880.83" width="31" height="8.92" fill="#E6AB02"/>
<rect x="1898.53" y="757.2" width="31" height="27.92" fill="#D95F02"/>
<rect x="1898.53" y="789.92" width="31" height="16.31" fill="#7570B3"/>
<rect x="1898.53" y="811.04" width="31" height="42.12" fill="#E7298A"/>
<rect x="1898.53" y="857.96" width="31" height="4.88" fill="#66A61E"/>
<rect x="1898.53" y="867.63" width="31" height="22.12" fill="#E6AB02"/>
<rect x="1936.99" y="757.2" width="31" height="45.81" fill="#D95F02"/>
<rect x="1936.99" y="807.81" width="31" height="1.36" fill="#7570B3"/>
<rect x="1936.99" y="813.97" width="31" height="43.59" fill="#E7298A"/>
<rect x="1936.99" y="862.36" width="31" height="21.01" fill="#66A61E"/>
<rect x="1936.99" y="888.16" width="31" height="1.59" fill="#E6AB02"/>
<rect x="1975.45" y="757.2" width="31" height="39.36" fill="#D95F02"/>
<rect x="1975.45" y="801.36" width="31" height="21.59" fill="#7570B3"/>
<rect x="1975.45" y="827.75" width="31" height="45.64" fill="#E7298A"/>
<rect x="1975.45" y="877.98" width="31" height="1.2" fill="#66A61E" opacity="0.75"/>
<rect x="1975.45" y="883.76" width="31" height="5.99" fill="#E6AB02"/>
<rect x="2013.92" y="757.2" width="31" height="61.94" fill="#D95F02"/>
<rect x="2013.92" y="823.94" width="31" height="9.28" fill="#7570B3"/>
<rect x="2013.92" y="838.02" width="31" height="30.98" fill="#E7298A"/>
<rect x="2013.92" y="873.79" width="31" height="7.52" fill="#66A61E"/>
<rect x="2013.92" y="886.11" width="31" height="3.64" fill="#E6AB02"/>
<rect x="2052.38" y="757.2" width="31" height="12.09" fill="#D95F02"/>
<rect x="2052.38" y="778.19" width="31" height="1.94" fill="#E7298A"/>
<rect x="2052.38" y="785.82" width="31" height="103.93" fill="#E6AB02"/>
<rect x="2090.84" y="757.2" width="31" height="49.62" fill="#D95F02"/>
<rect x="2090.84" y="816.02" width="31" height="35.38" fill="#E7298A"/>
<rect x="2090.84" y="856.2" width="31" height="8.69" fill="#66A61E"/>
<rect x="2090.84" y="869.69" width="31" height="20.06" fill="#E6AB02"/>
<rect x="2129.3" y="757.2" width="31" height="59.3" fill="#D95F02"/>
<rect x="2129.3" y="821.3" width="31" height="2.82" fill="#7570B3"/>
<rect x="2129.3" y="828.92" width="31" height="31.27" fill="#E7298A"/>
<rect x="2129.3" y="865" width="31" height="18.37" fill="#66A61E"/>
<rect x="2129.3" y="888.16" width="31" height="1.59" fill="#E6AB02"/>
<line x1="122.3" y1="754.3" x2="122.3" y2="893.45" stroke="#000" stroke-width="2.6"/>
<line x1="121" y1="892.6" x2="2166" y2="892.6" stroke="#000" stroke-width="2.9"/>
<line x1="110" y1="892.75" x2="122" y2="892.75" stroke="#000" stroke-width="2.8"/>
<text x="106" y="902.05" text-anchor="end" font-family="'Liberation Sans', Arial, Helvetica, sans-serif" font-size="29.3" letter-spacing="0.8">0.00</text>
<line x1="110" y1="858.41" x2="122" y2="858.41" stroke="#000" stroke-width="2.8"/>
<text x="106" y="867.71" text-anchor="end" font-family="'Liberation Sans', Arial, Helvetica, sans-serif" font-size="29.3" letter-spacing="0.8">0.25</text>
<line x1="110" y1="824.08" x2="122" y2="824.08" stroke="#000" stroke-width="2.8"/>
<text x="106" y="833.38" text-anchor="end" font-family="'Liberation Sans', Arial, Helvetica, sans-serif" font-size="29.3" letter-spacing="0.8">0.50</text>
<line x1="110" y1="789.74" x2="122" y2="789.74" stroke="#000" stroke-width="2.8"/>
<text x="106" y="799.04" text-anchor="end" font-family="'Liberation Sans', Arial, Helvetica, sans-serif" font-size="29.3" letter-spacing="0.8">0.75</text>
<line x1="110" y1="755.4" x2="122" y2="755.4" stroke="#000" stroke-width="2.8"/>
<text x="106" y="764.7" text-anchor="end" font-family="'Liberation Sans', Arial, Helvetica, sans-serif" font-size="29.3" letter-spacing="0.8">1.00</text>
<rect x="122.7" y="921.1" width="2043.3" height="53.5" fill="#fff" stroke="#5a5a5a" stroke-width="2.1"/>
<text x="1144.81" y="955.4" text-anchor="middle" font-family="'Liberation Sans', Arial, Helvetica, sans-serif" font-weight="bold" font-size="24.3" letter-spacing="-0.79">Esophagus Cancer</text>
<rect x="133.2" y="977" width="55.3" height="64.1" fill="#D95F02"/>
<rect x="133.2" y="1045.9" width="55.3" height="17.74" fill="#7570B3"/>
<rect x="133.2" y="1068.44" width="55.3" height="22.4" fill="#E7298A"/>
<rect x="133.2" y="1098.75" width="55.3" height="10.8" fill="#E6AB02"/>
<rect x="198.82" y="977" width="55.3" height="25.24" fill="#D95F02"/>
<rect x="198.82" y="1007.04" width="55.3" height="30.95" fill="#7570B3"/>
<rect x="198.82" y="1042.79" width="55.3" height="27.07" fill="#E7298A"/>
<rect x="198.82" y="1076.73" width="55.3" height="32.82" fill="#E6AB02"/>
<rect x="264.45" y="977" width="55.3" height="21.87" fill="#D95F02"/>
<rect x="264.45" y="1003.67" width="55.3" height="27.32" fill="#7570B3"/>
<rect x="264.45" y="1035.79" width="55.3" height="17.74" fill="#E7298A"/>
<rect x="264.45" y="1060.15" width="55.3" height="49.4" fill="#E6AB02"/>
<rect x="330.07" y="977" width="55.3" height="26.27" fill="#D95F02"/>
<rect x="330.07" y="1008.07" width="55.3" height="37.43" fill="#7570B3"/>
<rect x="330.07" y="1050.3" width="55.3" height="30.17" fill="#E7298A"/>
<rect x="330.07" y="1088.64" width="55.3" height="20.91" fill="#E6AB02"/>
<rect x="395.69" y="977" width="55.3" height="30.94" fill="#D95F02"/>
<rect x="395.69" y="1012.74" width="55.3" height="35.36" fill="#7570B3"/>
<rect x="395.69" y="1052.89" width="55.3" height="22.92" fill="#E7298A"/>
<rect x="395.69" y="1084.5" width="55.3" height="25.05" fill="#E6AB02"/>
<rect x="461.32" y="977" width="55.3" height="35.6" fill="#D95F02"/>
<rect x="461.32" y="1017.4" width="55.3" height="39.24" fill="#7570B3"/>
<rect x="461.32" y="1061.44" width="55.3" height="20.33" fill="#E7298A"/>
<rect x="461.32" y="1089.16" width="55.3" height="20.39" fill="#E6AB02"/>
<rect x="526.94" y="977" width="55.3" height="26.01" fill="#D95F02"/>
<rect x="526.94" y="1007.81" width="55.3" height="42.09" fill="#7570B3"/>
<rect x="526.94" y="1054.71" width="55.3" height="26.03" fill="#E7298A"/>
<rect x="526.94" y="1086.57" width="55.3" height="22.98" fill="#E6AB02"/>
<rect x="592.56" y="977" width="55.3" height="40.52" fill="#D95F02"/>
<rect x="592.56" y="1022.32" width="55.3" height="33.02" fill="#7570B3"/>
<rect x="592.56" y="1060.15" width="55.3" height="30.69" fill="#E7298A"/>
<rect x="592.56" y="1098.75" width="55.3" height="10.8" fill="#E6AB02"/>
<rect x="658.19" y="977" width="55.3" height="25.24" fill="#D95F02"/>
<rect x="658.19" y="1007.04" width="55.3" height="30.43" fill="#7570B3"/>
<rect x="658.19" y="1042.27" width="55.3" height="17.22" fill="#E7298A"/>
<rect x="658.19" y="1066.36" width="55.3" height="43.19" fill="#E6AB02"/>
<rect x="723.81" y="977" width="55.3" height="59.95" fill="#D95F02"/>
<rect x="723.81" y="1041.75" width="55.3" height="8.15" fill="#7570B3"/>
<rect x="723.81" y="1054.71" width="55.3" height="36.39" fill="#E7298A"/>
<rect x="723.81" y="1095.9" width="55.3" height="6.34" fill="#66A61E"/>
<rect x="723.81" y="1107.04" width="55.3" height="2.51" fill="#E6AB02"/>
<rect x="789.43" y="977" width="55.3" height="57.36" fill="#D95F02"/>
<rect x="789.43" y="1039.16" width="55.3" height="12.04" fill="#7570B3"/>
<rect x="789.43" y="1056" width="55.3" height="36.65" fill="#E7298A"/>
<rect x="789.43" y="1097.45" width="55.3" height="4.79" fill="#66A61E"/>
<rect x="789.43" y="1107.04" width="55.3" height="2.51" fill="#E6AB02"/>
<rect x="855.06" y="977" width="55.3" height="53.73" fill="#D95F02"/>
<rect x="855.06" y="1035.53" width="55.3" height="6.86" fill="#7570B3"/>
<rect x="855.06" y="1047.19" width="55.3" height="43.65" fill="#E7298A"/>
<rect x="855.06" y="1095.64" width="55.3" height="7.12" fill="#66A61E"/>
<rect x="855.06" y="1107.56" width="55.3" height="1.99" fill="#E6AB02"/>
<rect x="920.68" y="977" width="55.3" height="54.25" fill="#D95F02"/>
<rect x="920.68" y="1036.05" width="55.3" height="11.52" fill="#7570B3"/>
<rect x="920.68" y="1052.37" width="55.3" height="42.35" fill="#E7298A"/>
<rect x="920.68" y="1099.52" width="55.3" height="4.27" fill="#66A61E"/>
<rect x="920.68" y="1108.59" width="55.3" height="0.96" fill="#E6AB02"/>
<rect x="986.3" y="977" width="55.3" height="63.32" fill="#D95F02"/>
<rect x="986.3" y="1045.12" width="55.3" height="14.89" fill="#7570B3"/>
<rect x="986.3" y="1064.81" width="55.3" height="29.14" fill="#E7298A"/>
<rect x="986.3" y="1098.75" width="55.3" height="3.75" fill="#66A61E"/>
<rect x="986.3" y="1107.3" width="55.3" height="2.25" fill="#E6AB02"/>
<rect x="1051.93" y="977" width="55.3" height="44.67" fill="#D95F02"/>
<rect x="1051.93" y="1026.47" width="55.3" height="5.3" fill="#7570B3"/>
<rect x="1051.93" y="1036.57" width="55.3" height="41.31" fill="#E7298A"/>
<rect x="1051.93" y="1082.68" width="55.3" height="6.34" fill="#66A61E"/>
<rect x="1051.93" y="1093.82" width="55.3" height="15.73" fill="#E6AB02"/>
<rect x="1117.55" y="977" width="55.3" height="56.07" fill="#D95F02"/>
<rect x="1117.55" y="1037.87" width="55.3" height="8.41" fill="#7570B3"/>
<rect x="1117.55" y="1051.08" width="55.3" height="37.69" fill="#E7298A"/>
<rect x="1117.55" y="1093.57" width="55.3" height="7.38" fill="#66A61E"/>
<rect x="1117.55" y="1105.74" width="55.3" height="3.81" fill="#E6AB02"/>
<rect x="1183.17" y="977" width="55.3" height="59.69" fill="#D95F02"/>
<rect x="1183.17" y="1041.49" width="55.3" height="17.74" fill="#7570B3"/>
<rect x="1183.17" y="1064.03" width="55.3" height="30.17" fill="#E7298A"/>
<rect x="1183.17" y="1099.01" width="55.3" height="3.23" fill="#66A61E"/>
<rect x="1183.17" y="1107.04" width="55.3" height="2.51" fill="#E6AB02"/>
<rect x="1248.8" y="977" width="55.3" height="50.88" fill="#D95F02"/>
<rect x="1248.8" y="1032.68" width="55.3" height="10.23" fill="#7570B3"/>
<rect x="1248.8" y="1047.71" width="55.3" height="44.42" fill="#E7298A"/>
<rect x="1248.8" y="1096.93" width="55.3" height="6.08" fill="#66A61E"/>
<rect x="1248.8" y="1107.81" width="55.3" height="1.74" fill="#E6AB02"/>
<rect x="1314.42" y="977" width="55.3" height="51.92" fill="#D95F02"/>
<rect x="1314.42" y="1033.72" width="55.3" height="13.08" fill="#7570B3"/>
<rect x="1314.42" y="1051.6" width="55.3" height="37.43" fill="#E7298A"/>
<rect x="1314.42" y="1093.82" width="55.3" height="5.56" fill="#66A61E"/>
<rect x="1314.42" y="1104.19" width="55.3" height="5.36" fill="#E6AB02"/>
<rect x="1380.04" y="977" width="55.3" height="60.73" fill="#D95F02"/>
<rect x="1380.04" y="1042.53" width="55.3" height="14.11" fill="#7570B3"/>
<rect x="1380.04" y="1061.44" width="55.3" height="33.28" fill="#E7298A"/>
<rect x="1380.04" y="1099.52" width="55.3" height="5.04" fill="#66A61E"/>
<rect x="1380.04" y="1108.86" width="55.3" height="1.2" fill="#E6AB02" opacity="0.75"/>
<rect x="1445.67" y="977" width="55.3" height="51.92" fill="#D95F02"/>
<rect x="1445.67" y="1033.72" width="55.3" height="7.89" fill="#7570B3"/>
<rect x="1445.67" y="1046.42" width="55.3" height="32.76" fill="#E7298A"/>
<rect x="1445.67" y="1083.98" width="55.3" height="5.82" fill="#66A61E"/>
<rect x="1445.67" y="1094.6" width="55.3" height="14.95" fill="#E6AB02"/>
<rect x="1511.29" y="977" width="55.3" height="57.62" fill="#D95F02"/>
<rect x="1511.29" y="1039.42" width="55.3" height="7.38" fill="#7570B3"/>
<rect x="1511.29" y="1051.6" width="55.3" height="34.84" fill="#E7298A"/>
<rect x="1511.29" y="1091.23" width="55.3" height="7.89" fill="#66A61E"/>
<rect x="1511.29" y="1103.93" width="55.3" height="5.62" fill="#E6AB02"/>
<rect x="1576.91" y="977" width="55.3" height="41.4" fill="#D95F02"/>
<rect x="1576.91" y="1023.2" width="55.3" height="4.92" fill="#7570B3"/>
<rect x="1576.91" y="1032.92" width="55.3" height="57.9" fill="#E7298A"/>
<rect x="1576.91" y="1095.61" width="55.3" height="8.05" fill="#66A61E"/>
<rect x="1576.91" y="1108.47" width="55.3" height="1.08" fill="#E6AB02"/>
<rect x="1642.54" y="977" width="55.3" height="16.95" fill="#D95F02"/>
<rect x="1642.54" y="998.75" width="55.3" height="19.65" fill="#7570B3"/>
<rect x="1642.54" y="1023.2" width="55.3" height="21.85" fill="#E7298A"/>
<rect x="1642.54" y="1053.61" width="55.3" height="55.94" fill="#E6AB02"/>
<rect x="1708.16" y="977" width="55.3" height="10.05" fill="#D95F02"/>
<rect x="1708.16" y="991.85" width="55.3" height="64.17" fill="#7570B3"/>
<rect x="1708.16" y="1060.82" width="55.3" height="12.75" fill="#E7298A"/>
<rect x="1708.16" y="1079.63" width="55.3" height="29.92" fill="#E6AB02"/>
<rect x="1773.78" y="977" width="55.3" height="32.94" fill="#D95F02"/>
<rect x="1773.78" y="1014.74" width="55.3" height="51.31" fill="#7570B3"/>
<rect x="1773.78" y="1070.85" width="55.3" height="27.8" fill="#E7298A"/>
<rect x="1773.78" y="1107.53" width="55.3" height="2.02" fill="#E6AB02"/>
<rect x="1839.41" y="977" width="55.3" height="31.05" fill="#D95F02"/>
<rect x="1839.41" y="1012.85" width="55.3" height="4.29" fill="#7570B3"/>
<rect x="1839.41" y="1021.95" width="55.3" height="35.01" fill="#E7298A"/>
<rect x="1839.41" y="1061.76" width="55.3" height="6.8" fill="#66A61E"/>
<rect x="1839.41" y="1073.36" width="55.3" height="36.19" fill="#E6AB02"/>
<rect x="1905.03" y="977" width="55.3" height="24.16" fill="#D95F02"/>
<rect x="1905.03" y="1005.96" width="55.3" height="5.23" fill="#7570B3"/>
<rect x="1905.03" y="1015.99" width="55.3" height="47.24" fill="#E7298A"/>
<rect x="1905.03" y="1072.1" width="55.3" height="37.45" fill="#E6AB02"/>
<rect x="1970.65" y="977" width="55.3" height="60.84" fill="#D95F02"/>
<rect x="1970.65" y="1042.64" width="55.3" height="30.94" fill="#7570B3"/>
<rect x="1970.65" y="1078.37" width="55.3" height="23.73" fill="#E7298A"/>
<rect x="1970.65" y="1108.72" width="55.3" height="1.2" fill="#E6AB02" opacity="0.75"/>
<rect x="2036.28" y="977" width="55.3" height="37.32" fill="#D95F02"/>
<rect x="2036.28" y="1019.12" width="55.3" height="38.77" fill="#7570B3"/>
<rect x="2036.28" y="1062.7" width="55.3" height="27.17" fill="#E7298A"/>
<rect x="2036.28" y="1098.43" width="55.3" height="11.12" fill="#E6AB02"/>
<rect x="2101.9" y="977" width="55.3" height="34.19" fill="#D95F02"/>
<rect x="2101.9" y="1015.99" width="55.3" height="12.75" fill="#7570B3"/>
<rect x="2101.9" y="1033.54" width="55.3" height="47.55" fill="#E7298A"/>
<rect x="2101.9" y="1085.9" width="55.3" height="3.35" fill="#66A61E"/>
<rect x="2101.9" y="1094.05" width="55.3" height="15.5" fill="#E6AB02"/>
<line x1="122.3" y1="974.1" x2="122.3" y2="1113.25" stroke="#000" stroke-width="2.6"/>
<line x1="121" y1="1112.4" x2="2166" y2="1112.4" stroke="#000" stroke-width="2.9"/>
<line x1="110" y1="1112.55" x2="122" y2="1112.55" stroke="#000" stroke-width="2.8"/>
<text x="106" y="1121.85" text-anchor="end" font-family="'Liberation Sans', Arial, Helvetica, sans-serif" font-size="29.3" letter-spacing="0.8">0.00</text>
<line x1="110" y1="1078.21" x2="122" y2="1078.21" stroke="#000" stroke-width="2.8"/>
<text x="106" y="1087.51" text-anchor="end" font-family="'Liberation Sans', Arial, Helvetica, sans-serif" font-size="29.3" letter-spacing="0.8">0.25</text>
<line x1="110" y1="1043.88" x2="122" y2="1043.88" stroke="#000" stroke-width="2.8"/>
<text x="106" y="1053.17" text-anchor="end" font-family="'Liberation Sans', Arial, Helvetica, sans-serif" font-size="29.3" letter-spacing="0.8">0.50</text>
<line x1="110" y1="1009.54" x2="122" y2="1009.54" stroke="#000" stroke-width="2.8"/>
<text x="106" y="1018.84" text-anchor="end" font-family="'Liberation Sans', Arial, Helvetica, sans-serif" font-size="29.3" letter-spacing="0.8">0.75</text>
<line x1="110" y1="975.2" x2="122" y2="975.2" stroke="#000" stroke-width="2.8"/>
<text x="106" y="984.5" text-anchor="end" font-family="'Liberation Sans', Arial, Helvetica, sans-serif" font-size="29.3" letter-spacing="0.8">1.00</text>
<rect x="122.7" y="1140.6" width="2043.3" height="53.5" fill="#fff" stroke="#5a5a5a" stroke-width="2.1"/>
<text x="1144.9" y="1174.9" text-anchor="middle" font-family="'Liberation Sans', Arial, Helvetica, sans-serif" font-weight="bold" font-size="24.3" letter-spacing="-0.59">Healthy donor</text>
<rect x="130.6" y="1196.5" width="39.3" height="22.37" fill="#D95F02"/>
<rect x="130.6" y="1223.67" width="39.3" height="27.84" fill="#7570B3"/>
<rect x="130.6" y="1256.31" width="39.3" height="15.41" fill="#E7298A"/>
<rect x="130.6" y="1278.59" width="39.3" height="50.46" fill="#E6AB02"/>
<rect x="177.94" y="1196.5" width="39.3" height="23.66" fill="#D95F02"/>
<rect x="177.94" y="1224.96" width="39.3" height="24.99" fill="#7570B3"/>
<rect x="177.94" y="1254.76" width="39.3" height="23.96" fill="#E7298A"/>
<rect x="177.94" y="1285.85" width="39.3" height="43.2" fill="#E6AB02"/>
<rect x="225.29" y="1196.5" width="39.3" height="40.5" fill="#D95F02"/>
<rect x="225.29" y="1241.8" width="39.3" height="25.25" fill="#7570B3"/>
<rect x="225.29" y="1271.86" width="39.3" height="22.66" fill="#E7298A"/>
<rect x="225.29" y="1302.68" width="39.3" height="26.37" fill="#E6AB02"/>
<rect x="272.63" y="1196.5" width="39.3" height="6.31" fill="#D95F02"/>
<rect x="272.63" y="1207.61" width="39.3" height="19.03" fill="#7570B3"/>
<rect x="272.63" y="1231.44" width="39.3" height="6.08" fill="#E7298A"/>
<rect x="272.63" y="1242.58" width="39.3" height="86.47" fill="#E6AB02"/>
<rect x="319.97" y="1196.5" width="39.3" height="34.03" fill="#D95F02"/>
<rect x="319.97" y="1235.33" width="39.3" height="8.93" fill="#7570B3"/>
<rect x="319.97" y="1252.17" width="39.3" height="76.88" fill="#E6AB02"/>
<rect x="367.31" y="1196.5" width="39.3" height="2.94" fill="#D95F02"/>
<rect x="367.31" y="1204.24" width="39.3" height="11" fill="#7570B3"/>
<rect x="367.31" y="1220.04" width="39.3" height="4.79" fill="#E7298A"/>
<rect x="367.31" y="1229.63" width="39.3" height="99.42" fill="#E6AB02"/>
<rect x="414.66" y="1196.5" width="39.3" height="49.57" fill="#D95F02"/>
<rect x="414.66" y="1250.87" width="39.3" height="33.8" fill="#7570B3"/>
<rect x="414.66" y="1289.47" width="39.3" height="28.62" fill="#E7298A"/>
<rect x="414.66" y="1326" width="39.3" height="3.05" fill="#E6AB02"/>
<rect x="462" y="1196.5" width="39.3" height="59.42" fill="#D95F02"/>
<rect x="462" y="1260.72" width="39.3" height="22.4" fill="#7570B3"/>
<rect x="462" y="1287.92" width="39.3" height="19.03" fill="#E7298A"/>
<rect x="462" y="1316.16" width="39.3" height="12.89" fill="#E6AB02"/>
<rect x="509.34" y="1196.5" width="39.3" height="58.64" fill="#D95F02"/>
<rect x="509.34" y="1259.94" width="39.3" height="23.18" fill="#7570B3"/>
<rect x="509.34" y="1287.92" width="39.3" height="24.22" fill="#E7298A"/>
<rect x="509.34" y="1319.01" width="39.3" height="10.04" fill="#E6AB02"/>
<rect x="556.69" y="1196.5" width="39.3" height="36.62" fill="#D95F02"/>
<rect x="556.69" y="1237.92" width="39.3" height="39.76" fill="#7570B3"/>
<rect x="556.69" y="1282.48" width="39.3" height="30.95" fill="#E7298A"/>
<rect x="556.69" y="1320.82" width="39.3" height="8.23" fill="#E6AB02"/>
<rect x="604.03" y="1196.5" width="39.3" height="41.8" fill="#D95F02"/>
<rect x="604.03" y="1243.1" width="39.3" height="32.25" fill="#7570B3"/>
<rect x="604.03" y="1280.15" width="39.3" height="26.81" fill="#E7298A"/>
<rect x="604.03" y="1314.34" width="39.3" height="14.71" fill="#E6AB02"/>
<rect x="651.37" y="1196.5" width="39.3" height="22.37" fill="#D95F02"/>
<rect x="651.37" y="1223.67" width="39.3" height="12.04" fill="#7570B3"/>
<rect x="651.37" y="1240.51" width="39.3" height="8.15" fill="#E7298A"/>
<rect x="651.37" y="1254.76" width="39.3" height="74.29" fill="#E6AB02"/>
<rect x="698.71" y="1196.5" width="39.3" height="31.44" fill="#D95F02"/>
<rect x="698.71" y="1232.74" width="39.3" height="17.74" fill="#7570B3"/>
<rect x="698.71" y="1255.28" width="39.3" height="18.52" fill="#E7298A"/>
<rect x="698.71" y="1280.66" width="39.3" height="48.39" fill="#E6AB02"/>
<rect x="746.06" y="1196.5" width="39.3" height="27.55" fill="#D95F02"/>
<rect x="746.06" y="1228.85" width="39.3" height="19.03" fill="#7570B3"/>
<rect x="746.06" y="1252.68" width="39.3" height="30.95" fill="#E7298A"/>
<rect x="746.06" y="1291.03" width="39.3" height="38.02" fill="#E6AB02"/>
<rect x="793.4" y="1196.5" width="39.3" height="36.62" fill="#D95F02"/>
<rect x="793.4" y="1237.92" width="39.3" height="22.92" fill="#7570B3"/>
<rect x="793.4" y="1265.64" width="39.3" height="27.07" fill="#E7298A"/>
<rect x="793.4" y="1297.22" width="39.3" height="1.2" fill="#66A61E" opacity="0.75"/>
<rect x="793.4" y="1302.94" width="39.3" height="26.11" fill="#E6AB02"/>
<rect x="840.74" y="1196.5" width="39.3" height="72.11" fill="#D95F02"/>
<rect x="840.74" y="1273.41" width="39.3" height="18.26" fill="#7570B3"/>
<rect x="840.74" y="1296.47" width="39.3" height="22.66" fill="#E7298A"/>
<rect x="840.74" y="1323.39" width="39.3" height="1.2" fill="#66A61E" opacity="0.75"/>
<rect x="840.74" y="1328.35" width="39.3" height="1.2" fill="#E6AB02" opacity="0.75"/>
<rect x="888.09" y="1196.5" width="39.3" height="37.14" fill="#D95F02"/>
<rect x="888.09" y="1238.44" width="39.3" height="37.43" fill="#7570B3"/>
<rect x="888.09" y="1280.66" width="39.3" height="29.66" fill="#E7298A"/>
<rect x="888.09" y="1318.23" width="39.3" height="10.82" fill="#E6AB02"/>
<rect x="935.43" y="1196.5" width="39.3" height="48.79" fill="#D95F02"/>
<rect x="935.43" y="1250.09" width="39.3" height="3.23" fill="#7570B3"/>
<rect x="935.43" y="1258.13" width="39.3" height="41.57" fill="#E7298A"/>
<rect x="935.43" y="1304.5" width="39.3" height="14.89" fill="#66A61E"/>
<rect x="935.43" y="1324.19" width="39.3" height="4.86" fill="#E6AB02"/>
<rect x="982.77" y="1196.5" width="39.3" height="32.73" fill="#D95F02"/>
<rect x="982.77" y="1237.4" width="39.3" height="45.46" fill="#E7298A"/>
<rect x="982.77" y="1287.66" width="39.3" height="7.89" fill="#66A61E"/>
<rect x="982.77" y="1300.35" width="39.3" height="28.7" fill="#E6AB02"/>
<rect x="1030.11" y="1196.5" width="39.3" height="39.21" fill="#D95F02"/>
<rect x="1030.11" y="1240.51" width="39.3" height="4.27" fill="#7570B3"/>
<rect x="1030.11" y="1249.58" width="39.3" height="43.9" fill="#E7298A"/>
<rect x="1030.11" y="1298.28" width="39.3" height="10.23" fill="#66A61E"/>
<rect x="1030.11" y="1313.31" width="39.3" height="15.74" fill="#E6AB02"/>
<rect x="1077.46" y="1196.5" width="39.3" height="67.71" fill="#D95F02"/>
<rect x="1077.46" y="1269.01" width="39.3" height="9.45" fill="#7570B3"/>
<rect x="1077.46" y="1283.25" width="39.3" height="22.66" fill="#E7298A"/>
<rect x="1077.46" y="1310.72" width="39.3" height="7.12" fill="#66A61E"/>
<rect x="1077.46" y="1322.63" width="39.3" height="6.42" fill="#E6AB02"/>
<rect x="1124.8" y="1196.5" width="39.3" height="47.5" fill="#D95F02"/>
<rect x="1124.8" y="1248.8" width="39.3" height="16.18" fill="#7570B3"/>
<rect x="1124.8" y="1269.78" width="39.3" height="13.59" fill="#E7298A"/>
<rect x="1124.8" y="1290.51" width="39.3" height="38.54" fill="#E6AB02"/>
<rect x="1172.14" y="1196.5" width="39.3" height="53.46" fill="#D95F02"/>
<rect x="1172.14" y="1254.76" width="39.3" height="6.34" fill="#7570B3"/>
<rect x="1172.14" y="1265.9" width="39.3" height="26.03" fill="#E7298A"/>
<rect x="1172.14" y="1296.73" width="39.3" height="8.93" fill="#66A61E"/>
<rect x="1172.14" y="1310.46" width="39.3" height="18.59" fill="#E6AB02"/>
<rect x="1219.49" y="1196.5" width="39.3" height="60.45" fill="#D95F02"/>
<rect x="1219.49" y="1261.75" width="39.3" height="13.59" fill="#7570B3"/>
<rect x="1219.49" y="1280.15" width="39.3" height="29.14" fill="#E7298A"/>
<rect x="1219.49" y="1314.08" width="39.3" height="8.93" fill="#66A61E"/>
<rect x="1219.49" y="1327.81" width="39.3" height="1.24" fill="#E6AB02"/>
<rect x="1266.83" y="1196.5" width="39.3" height="44.91" fill="#D95F02"/>
<rect x="1266.83" y="1246.21" width="39.3" height="22.92" fill="#7570B3"/>
<rect x="1266.83" y="1273.93" width="39.3" height="30.95" fill="#E7298A"/>
<rect x="1266.83" y="1309.68" width="39.3" height="3.75" fill="#66A61E"/>
<rect x="1266.83" y="1318.23" width="39.3" height="10.82" fill="#E6AB02"/>
<rect x="1314.17" y="1196.5" width="39.3" height="39.99" fill="#D95F02"/>
<rect x="1314.17" y="1241.29" width="39.3" height="1.42" fill="#7570B3"/>
<rect x="1314.17" y="1247.5" width="39.3" height="47.01" fill="#E7298A"/>
<rect x="1314.17" y="1299.32" width="39.3" height="15.93" fill="#66A61E"/>
<rect x="1314.17" y="1320.04" width="39.3" height="9.01" fill="#E6AB02"/>
<rect x="1361.51" y="1196.5" width="39.3" height="41.28" fill="#D95F02"/>
<rect x="1361.51" y="1242.58" width="39.3" height="3.49" fill="#7570B3"/>
<rect x="1361.51" y="1250.87" width="39.3" height="30.17" fill="#E7298A"/>
<rect x="1361.51" y="1285.85" width="39.3" height="5.56" fill="#66A61E"/>
<rect x="1361.51" y="1296.21" width="39.3" height="32.84" fill="#E6AB02"/>
<rect x="1408.86" y="1196.5" width="39.3" height="50.35" fill="#D95F02"/>
<rect x="1408.86" y="1251.65" width="39.3" height="20.33" fill="#7570B3"/>
<rect x="1408.86" y="1276.78" width="39.3" height="34.32" fill="#E7298A"/>
<rect x="1408.86" y="1315.9" width="39.3" height="1.42" fill="#66A61E"/>
<rect x="1408.86" y="1322.12" width="39.3" height="6.93" fill="#E6AB02"/>
<rect x="1456.2" y="1196.5" width="39.3" height="32.21" fill="#D95F02"/>
<rect x="1456.2" y="1232.85" width="39.3" height="1.2" fill="#7570B3" opacity="0.75"/>
<rect x="1456.2" y="1238.18" width="39.3" height="26.55" fill="#E7298A"/>
<rect x="1456.2" y="1269.52" width="39.3" height="6.6" fill="#66A61E"/>
<rect x="1456.2" y="1280.92" width="39.3" height="48.13" fill="#E6AB02"/>
<rect x="1503.54" y="1196.5" width="39.3" height="63.04" fill="#D95F02"/>
<rect x="1503.54" y="1264.34" width="39.3" height="5.56" fill="#7570B3"/>
<rect x="1503.54" y="1274.71" width="39.3" height="24.99" fill="#E7298A"/>
<rect x="1503.54" y="1304.5" width="39.3" height="12.04" fill="#66A61E"/>
<rect x="1503.54" y="1321.34" width="39.3" height="7.71" fill="#E6AB02"/>
<rect x="1550.89" y="1196.5" width="39.3" height="56.63" fill="#D95F02"/>
<rect x="1550.89" y="1257.93" width="39.3" height="8.05" fill="#7570B3"/>
<rect x="1550.89" y="1270.79" width="39.3" height="33.76" fill="#E7298A"/>
<rect x="1550.89" y="1309.34" width="39.3" height="8.37" fill="#66A61E"/>
<rect x="1550.89" y="1322.51" width="39.3" height="6.54" fill="#E6AB02"/>
<rect x="1598.23" y="1196.5" width="39.3" height="65.41" fill="#D95F02"/>
<rect x="1598.23" y="1266.71" width="39.3" height="23.73" fill="#7570B3"/>
<rect x="1598.23" y="1295.24" width="39.3" height="22.47" fill="#E7298A"/>
<rect x="1598.23" y="1321.86" width="39.3" height="1.2" fill="#66A61E" opacity="0.75"/>
<rect x="1598.23" y="1327.21" width="39.3" height="1.84" fill="#E6AB02"/>
<rect x="1645.57" y="1196.5" width="39.3" height="61.34" fill="#D95F02"/>
<rect x="1645.57" y="1262.64" width="39.3" height="27.49" fill="#7570B3"/>
<rect x="1645.57" y="1294.92" width="39.3" height="22.16" fill="#E7298A"/>
<rect x="1645.57" y="1321.23" width="39.3" height="1.2" fill="#66A61E" opacity="0.75"/>
<rect x="1645.57" y="1326.58" width="39.3" height="2.47" fill="#E6AB02"/>
<rect x="1692.91" y="1203.07" width="39.3" height="125.98" fill="#E6AB02"/>
<rect x="1740.26" y="1203.39" width="39.3" height="125.66" fill="#E6AB02"/>
<rect x="1787.6" y="1196.5" width="39.3" height="22.46" fill="#D95F02"/>
<rect x="1787.6" y="1223.76" width="39.3" height="45.98" fill="#7570B3"/>
<rect x="1787.6" y="1274.55" width="39.3" height="16.52" fill="#E7298A"/>
<rect x="1787.6" y="1296.8" width="39.3" height="32.25" fill="#E6AB02"/>
<rect x="1834.94" y="1196.5" width="39.3" height="17.76" fill="#D95F02"/>
<rect x="1834.94" y="1219.06" width="39.3" height="50.06" fill="#7570B3"/>
<rect x="1834.94" y="1278" width="39.3" height="51.05" fill="#E6AB02"/>
<rect x="1882.29" y="1196.5" width="39.3" height="26.23" fill="#D95F02"/>
<rect x="1882.29" y="1227.53" width="39.3" height="60.09" fill="#7570B3"/>
<rect x="1882.29" y="1292.42" width="39.3" height="1.78" fill="#E7298A"/>
<rect x="1882.29" y="1299.94" width="39.3" height="29.11" fill="#E6AB02"/>
<rect x="1929.63" y="1196.5" width="39.3" height="24.66" fill="#D95F02"/>
<rect x="1929.63" y="1225.96" width="39.3" height="71.06" fill="#7570B3"/>
<rect x="1929.63" y="1301.82" width="39.3" height="2.1" fill="#E7298A"/>
<rect x="1929.63" y="1309.34" width="39.3" height="19.71" fill="#E6AB02"/>
<rect x="1976.97" y="1196.5" width="39.3" height="66.04" fill="#D95F02"/>
<rect x="1976.97" y="1267.34" width="39.3" height="8.68" fill="#7570B3"/>
<rect x="1976.97" y="1280.82" width="39.3" height="26.23" fill="#E7298A"/>
<rect x="1976.97" y="1311.85" width="39.3" height="11.19" fill="#66A61E"/>
<rect x="1976.97" y="1327.84" width="39.3" height="1.21" fill="#E6AB02"/>
<rect x="2024.31" y="1196.5" width="39.3" height="24.03" fill="#D95F02"/>
<rect x="2024.31" y="1225.33" width="39.3" height="15.58" fill="#7570B3"/>
<rect x="2024.31" y="1245.71" width="39.3" height="57.9" fill="#E7298A"/>
<rect x="2024.31" y="1312.79" width="39.3" height="16.26" fill="#E6AB02"/>
<rect x="2071.66" y="1196.5" width="39.3" height="49.74" fill="#D95F02"/>
<rect x="2071.66" y="1251.04" width="39.3" height="2.41" fill="#7570B3"/>
<rect x="2071.66" y="1258.25" width="39.3" height="32.82" fill="#E7298A"/>
<rect x="2071.66" y="1295.86" width="39.3" height="8.37" fill="#66A61E"/>
<rect x="2071.66" y="1309.03" width="39.3" height="20.02" fill="#E6AB02"/>
<rect x="2119" y="1196.5" width="39.3" height="51.3" fill="#D95F02"/>
<rect x="2119" y="1252.6" width="39.3" height="7.11" fill="#7570B3"/>
<rect x="2119" y="1264.52" width="39.3" height="28.12" fill="#E7298A"/>
<rect x="2119" y="1297.43" width="39.3" height="15.26" fill="#66A61E"/>
<rect x="2119" y="1317.49" width="39.3" height="11.56" fill="#E6AB02"/>
<line x1="122.3" y1="1193.6" x2="122.3" y2="1332.75" stroke="#000" stroke-width="2.6"/>
<line x1="121" y1="1331.9" x2="2166" y2="1331.9" stroke="#000" stroke-width="2.9"/>
<line x1="110" y1="1332.05" x2="122" y2="1332.05" stroke="#000" stroke-width="2.8"/>
<text x="106" y="1341.35" text-anchor="end" font-family="'Liberation Sans', Arial, Helvetica, sans-serif" font-size="29.3" letter-spacing="0.8">0.00</text>
<line x1="110" y1="1297.71" x2="122" y2="1297.71" stroke="#000" stroke-width="2.8"/>
<text x="106" y="1307.01" text-anchor="end" font-family="'Liberation Sans', Arial, Helvetica, sans-serif" font-size="29.3" letter-spacing="0.8">0.25</text>
<line x1="110" y1="1263.37" x2="122" y2="1263.37" stroke="#000" stroke-width="2.8"/>
<text x="106" y="1272.67" text-anchor="end" font-family="'Liberation Sans', Arial, Helvetica, sans-serif" font-size="29.3" letter-spacing="0.8">0.50</text>
<line x1="110" y1="1229.04" x2="122" y2="1229.04" stroke="#000" stroke-width="2.8"/>
<text x="106" y="1238.34" text-anchor="end" font-family="'Liberation Sans', Arial, Helvetica, sans-serif" font-size="29.3" letter-spacing="0.8">0.75</text>
<line x1="110" y1="1194.7" x2="122" y2="1194.7" stroke="#000" stroke-width="2.8"/>
<text x="106" y="1204" text-anchor="end" font-family="'Liberation Sans', Arial, Helvetica, sans-serif" font-size="29.3" letter-spacing="0.8">1.00</text>
<rect x="122.7" y="1359.8" width="2043.3" height="53.5" fill="#fff" stroke="#5a5a5a" stroke-width="2.1"/>
<text x="1145.04" y="1394.1" text-anchor="middle" font-family="'Liberation Sans', Arial, Helvetica, sans-serif" font-weight="bold" font-size="24.3" letter-spacing="-0.32">Liver Cancer</text>
<rect x="135.8" y="1415.7" width="66.5" height="49.59" fill="#D95F02"/>
<rect x="135.8" y="1470.09" width="66.5" height="29.4" fill="#7570B3"/>
<rect x="135.8" y="1504.29" width="66.5" height="27.84" fill="#E7298A"/>
<rect x="135.8" y="1541.34" width="66.5" height="6.91" fill="#E6AB02"/>
<rect x="213.84" y="1415.7" width="66.5" height="10.22" fill="#D95F02"/>
<rect x="213.84" y="1430.72" width="66.5" height="36.39" fill="#7570B3"/>
<rect x="213.84" y="1471.91" width="66.5" height="29.66" fill="#E7298A"/>
<rect x="213.84" y="1507.92" width="66.5" height="40.33" fill="#E6AB02"/>
<rect x="291.87" y="1415.7" width="66.5" height="51.15" fill="#D95F02"/>
<rect x="291.87" y="1471.65" width="66.5" height="40.02" fill="#7570B3"/>
<rect x="291.87" y="1516.47" width="66.5" height="13.85" fill="#E7298A"/>
<rect x="291.87" y="1537.45" width="66.5" height="10.8" fill="#E6AB02"/>
<rect x="369.91" y="1415.7" width="66.5" height="43.12" fill="#D95F02"/>
<rect x="369.91" y="1463.62" width="66.5" height="24.73" fill="#7570B3"/>
<rect x="369.91" y="1493.15" width="66.5" height="27.58" fill="#E7298A"/>
<rect x="369.91" y="1528.64" width="66.5" height="19.61" fill="#E6AB02"/>
<rect x="447.94" y="1415.7" width="66.5" height="8.4" fill="#D95F02"/>
<rect x="447.94" y="1428.9" width="66.5" height="26.29" fill="#7570B3"/>
<rect x="447.94" y="1459.99" width="66.5" height="22.14" fill="#E7298A"/>
<rect x="447.94" y="1486.93" width="66.5" height="61.32" fill="#E6AB02"/>
<rect x="525.98" y="1415.7" width="66.5" height="12.81" fill="#D95F02"/>
<rect x="525.98" y="1433.31" width="66.5" height="10.74" fill="#7570B3"/>
<rect x="525.98" y="1448.85" width="66.5" height="21.62" fill="#E7298A"/>
<rect x="525.98" y="1477.35" width="66.5" height="70.9" fill="#E6AB02"/>
<rect x="604.02" y="1415.7" width="66.5" height="11.51" fill="#D95F02"/>
<rect x="604.02" y="1432.01" width="66.5" height="20.85" fill="#7570B3"/>
<rect x="604.02" y="1457.66" width="66.5" height="21.11" fill="#E7298A"/>
<rect x="604.02" y="1485.64" width="66.5" height="62.61" fill="#E6AB02"/>
<rect x="682.05" y="1415.7" width="66.5" height="5.55" fill="#D95F02"/>
<rect x="682.05" y="1426.05" width="66.5" height="7.89" fill="#7570B3"/>
<rect x="682.05" y="1438.75" width="66.5" height="36.13" fill="#E7298A"/>
<rect x="682.05" y="1481.49" width="66.5" height="66.76" fill="#E6AB02"/>
<rect x="760.09" y="1415.7" width="66.5" height="58.14" fill="#D95F02"/>
<rect x="760.09" y="1478.64" width="66.5" height="11.78" fill="#7570B3"/>
<rect x="760.09" y="1495.22" width="66.5" height="19.29" fill="#E7298A"/>
<rect x="760.09" y="1523.46" width="66.5" height="24.79" fill="#E6AB02"/>
<rect x="838.12" y="1415.7" width="66.5" height="26.28" fill="#D95F02"/>
<rect x="838.12" y="1446.78" width="66.5" height="12.56" fill="#7570B3"/>
<rect x="838.12" y="1464.14" width="66.5" height="22.66" fill="#E7298A"/>
<rect x="838.12" y="1494.71" width="66.5" height="53.54" fill="#E6AB02"/>
<rect x="916.16" y="1415.7" width="66.5" height="19.8" fill="#D95F02"/>
<rect x="916.16" y="1440.3" width="66.5" height="7.64" fill="#7570B3"/>
<rect x="916.16" y="1452.74" width="66.5" height="21.11" fill="#E7298A"/>
<rect x="916.16" y="1482.53" width="66.5" height="65.72" fill="#E6AB02"/>
<rect x="994.2" y="1415.7" width="66.5" height="57.37" fill="#D95F02"/>
<rect x="994.2" y="1477.87" width="66.5" height="21.11" fill="#7570B3"/>
<rect x="994.2" y="1503.77" width="66.5" height="16.96" fill="#E7298A"/>
<rect x="994.2" y="1525.53" width="66.5" height="1.42" fill="#66A61E"/>
<rect x="994.2" y="1531.75" width="66.5" height="16.5" fill="#E6AB02"/>
<rect x="1072.23" y="1415.7" width="66.5" height="16.17" fill="#D95F02"/>
<rect x="1072.23" y="1436.67" width="66.5" height="80.43" fill="#7570B3"/>
<rect x="1072.23" y="1521.91" width="66.5" height="9.19" fill="#E7298A"/>
<rect x="1072.23" y="1536.93" width="66.5" height="11.32" fill="#E6AB02"/>
<rect x="1150.27" y="1415.7" width="66.5" height="30.42" fill="#D95F02"/>
<rect x="1150.27" y="1450.92" width="66.5" height="48.57" fill="#7570B3"/>
<rect x="1150.27" y="1504.29" width="66.5" height="15.41" fill="#E7298A"/>
<rect x="1150.27" y="1528.13" width="66.5" height="20.12" fill="#E6AB02"/>
<rect x="1228.3" y="1415.7" width="66.5" height="45.71" fill="#D95F02"/>
<rect x="1228.3" y="1466.21" width="66.5" height="15.15" fill="#7570B3"/>
<rect x="1228.3" y="1486.16" width="66.5" height="23.7" fill="#E7298A"/>
<rect x="1228.3" y="1516.73" width="66.5" height="31.52" fill="#E6AB02"/>
<rect x="1306.34" y="1415.7" width="66.5" height="81.46" fill="#D95F02"/>
<rect x="1306.34" y="1501.96" width="66.5" height="21.11" fill="#7570B3"/>
<rect x="1306.34" y="1527.87" width="66.5" height="8.15" fill="#E7298A"/>
<rect x="1306.34" y="1540.82" width="66.5" height="2.45" fill="#66A61E"/>
<rect x="1306.34" y="1547.56" width="66.5" height="1.2" fill="#E6AB02" opacity="0.75"/>
<rect x="1384.38" y="1415.7" width="66.5" height="9.7" fill="#D95F02"/>
<rect x="1384.38" y="1430.2" width="66.5" height="84.32" fill="#7570B3"/>
<rect x="1384.38" y="1519.32" width="66.5" height="13.08" fill="#E7298A"/>
<rect x="1384.38" y="1539.01" width="66.5" height="9.24" fill="#E6AB02"/>
<rect x="1462.41" y="1415.7" width="66.5" height="65.14" fill="#D95F02"/>
<rect x="1462.41" y="1485.64" width="66.5" height="18.78" fill="#7570B3"/>
<rect x="1462.41" y="1509.21" width="66.5" height="12.04" fill="#E7298A"/>
<rect x="1462.41" y="1526.05" width="66.5" height="1.42" fill="#66A61E"/>
<rect x="1462.41" y="1532.27" width="66.5" height="15.98" fill="#E6AB02"/>
<rect x="1540.45" y="1415.7" width="66.5" height="72.91" fill="#D95F02"/>
<rect x="1540.45" y="1493.41" width="66.5" height="18.95" fill="#7570B3"/>
<rect x="1540.45" y="1517.16" width="66.5" height="11.89" fill="#E7298A"/>
<rect x="1540.45" y="1533.84" width="66.5" height="1.3" fill="#66A61E"/>
<rect x="1540.45" y="1539.94" width="66.5" height="8.31" fill="#E6AB02"/>
<rect x="1618.48" y="1415.7" width="66.5" height="26.37" fill="#D95F02"/>
<rect x="1618.48" y="1446.87" width="66.5" height="16.06" fill="#7570B3"/>
<rect x="1618.48" y="1467.73" width="66.5" height="15.1" fill="#E7298A"/>
<rect x="1618.48" y="1489.88" width="66.5" height="58.37" fill="#E6AB02"/>
<rect x="1696.52" y="1415.7" width="66.5" height="40.82" fill="#D95F02"/>
<rect x="1696.52" y="1461.32" width="66.5" height="40.77" fill="#7570B3"/>
<rect x="1696.52" y="1506.89" width="66.5" height="27.29" fill="#E7298A"/>
<rect x="1696.52" y="1540.26" width="66.5" height="7.99" fill="#E6AB02"/>
<rect x="1774.56" y="1415.7" width="66.5" height="35.36" fill="#D95F02"/>
<rect x="1774.56" y="1455.86" width="66.5" height="31.14" fill="#7570B3"/>
<rect x="1774.56" y="1491.8" width="66.5" height="19.91" fill="#E7298A"/>
<rect x="1774.56" y="1518.12" width="66.5" height="30.13" fill="#E6AB02"/>
<rect x="1852.59" y="1415.7" width="66.5" height="8.72" fill="#D95F02"/>
<rect x="1852.59" y="1429.22" width="66.5" height="57.46" fill="#7570B3"/>
<rect x="1852.59" y="1491.48" width="66.5" height="8.36" fill="#E7298A"/>
<rect x="1852.59" y="1504.96" width="66.5" height="43.29" fill="#E6AB02"/>
<rect x="1930.63" y="1415.7" width="66.5" height="26.37" fill="#D95F02"/>
<rect x="1930.63" y="1446.87" width="66.5" height="17.34" fill="#7570B3"/>
<rect x="1930.63" y="1469.02" width="66.5" height="17.02" fill="#E7298A"/>
<rect x="1930.63" y="1492.12" width="66.5" height="56.13" fill="#E6AB02"/>
<rect x="2008.66" y="1415.7" width="66.5" height="46.27" fill="#D95F02"/>
<rect x="2008.66" y="1466.77" width="66.5" height="13.49" fill="#7570B3"/>
<rect x="2008.66" y="1485.06" width="66.5" height="23.44" fill="#E7298A"/>
<rect x="2008.66" y="1515.55" width="66.5" height="32.7" fill="#E6AB02"/>
<rect x="2086.7" y="1415.7" width="66.5" height="11.93" fill="#D95F02"/>
<rect x="2086.7" y="1432.43" width="66.5" height="19.91" fill="#7570B3"/>
<rect x="2086.7" y="1457.14" width="66.5" height="5.79" fill="#E7298A"/>
<rect x="2086.7" y="1469.02" width="66.5" height="79.23" fill="#E6AB02"/>
<line x1="122.3" y1="1412.8" x2="122.3" y2="1551.95" stroke="#000" stroke-width="2.6"/>
<line x1="121" y1="1551.1" x2="2166" y2="1551.1" stroke="#000" stroke-width="2.9"/>
<line x1="110" y1="1551.25" x2="122" y2="1551.25" stroke="#000" stroke-width="2.8"/>
<text x="106" y="1560.55" text-anchor="end" font-family="'Liberation Sans', Arial, Helvetica, sans-serif" font-size="29.3" letter-spacing="0.8">0.00</text>
<line x1="110" y1="1516.91" x2="122" y2="1516.91" stroke="#000" stroke-width="2.8"/>
<text x="106" y="1526.21" text-anchor="end" font-family="'Liberation Sans', Arial, Helvetica, sans-serif" font-size="29.3" letter-spacing="0.8">0.25</text>
<line x1="110" y1="1482.57" x2="122" y2="1482.57" stroke="#000" stroke-width="2.8"/>
<text x="106" y="1491.87" text-anchor="end" font-family="'Liberation Sans', Arial, Helvetica, sans-serif" font-size="29.3" letter-spacing="0.8">0.50</text>
<line x1="110" y1="1448.24" x2="122" y2="1448.24" stroke="#000" stroke-width="2.8"/>
<text x="106" y="1457.54" text-anchor="end" font-family="'Liberation Sans', Arial, Helvetica, sans-serif" font-size="29.3" letter-spacing="0.8">0.75</text>
<line x1="110" y1="1413.9" x2="122" y2="1413.9" stroke="#000" stroke-width="2.8"/>
<text x="106" y="1423.2" text-anchor="end" font-family="'Liberation Sans', Arial, Helvetica, sans-serif" font-size="29.3" letter-spacing="0.8">1.00</text>
<rect x="122.7" y="1578.8" width="2043.3" height="53.5" fill="#fff" stroke="#5a5a5a" stroke-width="2.1"/>
<text x="1144.75" y="1613.1" text-anchor="middle" font-family="'Liberation Sans', Arial, Helvetica, sans-serif" font-weight="bold" font-size="24.3" letter-spacing="-0.91">Lung Cancer</text>
<rect x="131.9" y="1634.7" width="48.8" height="63.03" fill="#D95F02"/>
<rect x="131.9" y="1702.53" width="48.8" height="18.78" fill="#7570B3"/>
<rect x="131.9" y="1726.1" width="48.8" height="29.66" fill="#E7298A"/>
<rect x="131.9" y="1760.56" width="48.8" height="3.23" fill="#66A61E"/>
<rect x="190.04" y="1634.7" width="48.8" height="19.77" fill="#D95F02"/>
<rect x="190.04" y="1659.27" width="48.8" height="9.19" fill="#7570B3"/>
<rect x="190.04" y="1673.25" width="48.8" height="33.02" fill="#E7298A"/>
<rect x="190.04" y="1714.71" width="48.8" height="52.54" fill="#E6AB02"/>
<rect x="248.17" y="1634.7" width="48.8" height="34.01" fill="#D95F02"/>
<rect x="248.17" y="1673.51" width="48.8" height="14.89" fill="#7570B3"/>
<rect x="248.17" y="1693.2" width="48.8" height="26.03" fill="#E7298A"/>
<rect x="248.17" y="1724.03" width="48.8" height="1.42" fill="#66A61E"/>
<rect x="248.17" y="1730.25" width="48.8" height="37" fill="#E6AB02"/>
<rect x="306.31" y="1634.7" width="48.8" height="43.08" fill="#D95F02"/>
<rect x="306.31" y="1682.58" width="48.8" height="17.22" fill="#7570B3"/>
<rect x="306.31" y="1704.6" width="48.8" height="44.16" fill="#E7298A"/>
<rect x="306.31" y="1753.57" width="48.8" height="1.68" fill="#66A61E"/>
<rect x="306.31" y="1760.04" width="48.8" height="7.21" fill="#E6AB02"/>
<rect x="364.44" y="1634.7" width="48.8" height="63.81" fill="#D95F02"/>
<rect x="364.44" y="1703.31" width="48.8" height="10.74" fill="#7570B3"/>
<rect x="364.44" y="1718.85" width="48.8" height="31.73" fill="#E7298A"/>
<rect x="364.44" y="1755.38" width="48.8" height="4.79" fill="#66A61E"/>
<rect x="364.44" y="1764.96" width="48.8" height="2.29" fill="#E6AB02"/>
<rect x="422.58" y="1634.7" width="48.8" height="53.96" fill="#D95F02"/>
<rect x="422.58" y="1693.46" width="48.8" height="8.15" fill="#7570B3"/>
<rect x="422.58" y="1706.42" width="48.8" height="31.99" fill="#E7298A"/>
<rect x="422.58" y="1743.2" width="48.8" height="8.15" fill="#66A61E"/>
<rect x="422.58" y="1756.16" width="48.8" height="11.09" fill="#E6AB02"/>
<rect x="480.71" y="1634.7" width="48.8" height="69.51" fill="#D95F02"/>
<rect x="480.71" y="1709.01" width="48.8" height="9.97" fill="#7570B3"/>
<rect x="480.71" y="1723.77" width="48.8" height="24.47" fill="#E7298A"/>
<rect x="480.71" y="1753.05" width="48.8" height="5.04" fill="#66A61E"/>
<rect x="480.71" y="1762.89" width="48.8" height="4.36" fill="#E6AB02"/>
<rect x="538.85" y="1634.7" width="48.8" height="44.38" fill="#D95F02"/>
<rect x="538.85" y="1683.88" width="48.8" height="13.08" fill="#7570B3"/>
<rect x="538.85" y="1701.75" width="48.8" height="44.68" fill="#E7298A"/>
<rect x="538.85" y="1751.23" width="48.8" height="7.64" fill="#66A61E"/>
<rect x="538.85" y="1763.67" width="48.8" height="3.58" fill="#E6AB02"/>
<rect x="596.98" y="1634.7" width="48.8" height="42.82" fill="#D95F02"/>
<rect x="596.98" y="1682.32" width="48.8" height="5.82" fill="#7570B3"/>
<rect x="596.98" y="1692.94" width="48.8" height="53.75" fill="#E7298A"/>
<rect x="596.98" y="1751.49" width="48.8" height="6.6" fill="#66A61E"/>
<rect x="596.98" y="1762.89" width="48.8" height="4.36" fill="#E6AB02"/>
<rect x="655.12" y="1634.7" width="48.8" height="37.9" fill="#D95F02"/>
<rect x="655.12" y="1681.29" width="48.8" height="28.36" fill="#E7298A"/>
<rect x="655.12" y="1714.45" width="48.8" height="4.01" fill="#66A61E"/>
<rect x="655.12" y="1723.25" width="48.8" height="44" fill="#E6AB02"/>
<rect x="713.25" y="1634.7" width="48.8" height="38.42" fill="#D95F02"/>
<rect x="713.25" y="1677.92" width="48.8" height="4.27" fill="#7570B3"/>
<rect x="713.25" y="1686.99" width="48.8" height="53.49" fill="#E7298A"/>
<rect x="713.25" y="1745.28" width="48.8" height="5.3" fill="#66A61E"/>
<rect x="713.25" y="1755.38" width="48.8" height="11.87" fill="#E6AB02"/>
<rect x="771.39" y="1634.7" width="48.8" height="45.67" fill="#D95F02"/>
<rect x="771.39" y="1685.17" width="48.8" height="12.56" fill="#7570B3"/>
<rect x="771.39" y="1702.53" width="48.8" height="37.43" fill="#E7298A"/>
<rect x="771.39" y="1744.76" width="48.8" height="8.15" fill="#66A61E"/>
<rect x="771.39" y="1757.71" width="48.8" height="9.54" fill="#E6AB02"/>
<rect x="829.52" y="1634.7" width="48.8" height="47.49" fill="#D95F02"/>
<rect x="829.52" y="1686.99" width="48.8" height="12.04" fill="#7570B3"/>
<rect x="829.52" y="1703.82" width="48.8" height="30.17" fill="#E7298A"/>
<rect x="829.52" y="1738.8" width="48.8" height="7.12" fill="#66A61E"/>
<rect x="829.52" y="1750.72" width="48.8" height="16.53" fill="#E6AB02"/>
<rect x="887.66" y="1634.7" width="48.8" height="36.35" fill="#D95F02"/>
<rect x="887.66" y="1675.85" width="48.8" height="16.96" fill="#7570B3"/>
<rect x="887.66" y="1697.61" width="48.8" height="40.28" fill="#E7298A"/>
<rect x="887.66" y="1742.68" width="48.8" height="1.42" fill="#66A61E"/>
<rect x="887.66" y="1748.9" width="48.8" height="18.35" fill="#E6AB02"/>
<rect x="945.79" y="1634.7" width="48.8" height="44.89" fill="#D95F02"/>
<rect x="945.79" y="1684.39" width="48.8" height="7.12" fill="#7570B3"/>
<rect x="945.79" y="1696.31" width="48.8" height="49.86" fill="#E7298A"/>
<rect x="945.79" y="1750.98" width="48.8" height="4.01" fill="#66A61E"/>
<rect x="945.79" y="1759.78" width="48.8" height="7.47" fill="#E6AB02"/>
<rect x="1003.93" y="1634.7" width="48.8" height="38.42" fill="#D95F02"/>
<rect x="1003.93" y="1677.92" width="48.8" height="4.01" fill="#7570B3"/>
<rect x="1003.93" y="1686.73" width="48.8" height="50.12" fill="#E7298A"/>
<rect x="1003.93" y="1741.65" width="48.8" height="1.68" fill="#66A61E"/>
<rect x="1003.93" y="1748.13" width="48.8" height="19.12" fill="#E6AB02"/>
<rect x="1062.06" y="1634.7" width="48.8" height="63.03" fill="#D95F02"/>
<rect x="1062.06" y="1702.53" width="48.8" height="14.89" fill="#7570B3"/>
<rect x="1062.06" y="1722.22" width="48.8" height="30.69" fill="#E7298A"/>
<rect x="1062.06" y="1757.71" width="48.8" height="2.19" fill="#66A61E"/>
<rect x="1062.06" y="1764.71" width="48.8" height="2.54" fill="#E6AB02"/>
<rect x="1120.2" y="1634.7" width="48.8" height="58.63" fill="#D95F02"/>
<rect x="1120.2" y="1698.13" width="48.8" height="7.89" fill="#7570B3"/>
<rect x="1120.2" y="1710.82" width="48.8" height="30.95" fill="#E7298A"/>
<rect x="1120.2" y="1746.57" width="48.8" height="3.49" fill="#66A61E"/>
<rect x="1120.2" y="1754.86" width="48.8" height="12.39" fill="#E6AB02"/>
<rect x="1178.34" y="1634.7" width="48.8" height="59.92" fill="#D95F02"/>
<rect x="1178.34" y="1699.42" width="48.8" height="7.38" fill="#7570B3"/>
<rect x="1178.34" y="1711.6" width="48.8" height="24.22" fill="#E7298A"/>
<rect x="1178.34" y="1745.02" width="48.8" height="22.23" fill="#E6AB02"/>
<rect x="1236.47" y="1634.7" width="48.8" height="41.79" fill="#D95F02"/>
<rect x="1236.47" y="1681.29" width="48.8" height="2.71" fill="#7570B3"/>
<rect x="1236.47" y="1688.8" width="48.8" height="64.11" fill="#E7298A"/>
<rect x="1236.47" y="1757.71" width="48.8" height="3.49" fill="#66A61E"/>
<rect x="1236.47" y="1766" width="48.8" height="1.25" fill="#E6AB02"/>
<rect x="1294.61" y="1634.7" width="48.8" height="38.94" fill="#D95F02"/>
<rect x="1294.61" y="1678.44" width="48.8" height="14.11" fill="#7570B3"/>
<rect x="1294.61" y="1697.35" width="48.8" height="25.77" fill="#E7298A"/>
<rect x="1294.61" y="1727.92" width="48.8" height="4.01" fill="#66A61E"/>
<rect x="1294.61" y="1736.73" width="48.8" height="30.52" fill="#E6AB02"/>
<rect x="1352.74" y="1634.7" width="48.8" height="40.23" fill="#D95F02"/>
<rect x="1352.74" y="1679.73" width="48.8" height="2.19" fill="#7570B3"/>
<rect x="1352.74" y="1686.73" width="48.8" height="44.68" fill="#E7298A"/>
<rect x="1352.74" y="1736.21" width="48.8" height="10.23" fill="#66A61E"/>
<rect x="1352.74" y="1751.23" width="48.8" height="16.02" fill="#E6AB02"/>
<rect x="1410.88" y="1634.7" width="48.8" height="75.21" fill="#D95F02"/>
<rect x="1410.88" y="1714.71" width="48.8" height="5.82" fill="#7570B3"/>
<rect x="1410.88" y="1725.33" width="48.8" height="26.81" fill="#E7298A"/>
<rect x="1410.88" y="1760.82" width="48.8" height="6.43" fill="#E6AB02"/>
<rect x="1469.01" y="1634.7" width="48.8" height="59.92" fill="#D95F02"/>
<rect x="1469.01" y="1699.42" width="48.8" height="14.11" fill="#7570B3"/>
<rect x="1469.01" y="1718.33" width="48.8" height="33.8" fill="#E7298A"/>
<rect x="1469.01" y="1756.93" width="48.8" height="3.23" fill="#66A61E"/>
<rect x="1469.01" y="1764.96" width="48.8" height="2.29" fill="#E6AB02"/>
<rect x="1527.15" y="1634.7" width="48.8" height="57.39" fill="#D95F02"/>
<rect x="1527.15" y="1696.89" width="48.8" height="8.78" fill="#7570B3"/>
<rect x="1527.15" y="1710.47" width="48.8" height="31.84" fill="#E7298A"/>
<rect x="1527.15" y="1747.11" width="48.8" height="5.62" fill="#66A61E"/>
<rect x="1527.15" y="1757.53" width="48.8" height="9.72" fill="#E6AB02"/>
<rect x="1585.28" y="1634.7" width="48.8" height="45.7" fill="#D95F02"/>
<rect x="1585.28" y="1685.2" width="48.8" height="6.57" fill="#7570B3"/>
<rect x="1585.28" y="1696.57" width="48.8" height="50.79" fill="#E7298A"/>
<rect x="1585.28" y="1752.16" width="48.8" height="7.83" fill="#66A61E"/>
<rect x="1585.28" y="1764.8" width="48.8" height="2.45" fill="#E6AB02"/>
<rect x="1643.42" y="1634.7" width="48.8" height="68.76" fill="#D95F02"/>
<rect x="1643.42" y="1708.26" width="48.8" height="9.73" fill="#7570B3"/>
<rect x="1643.42" y="1722.79" width="48.8" height="28.68" fill="#E7298A"/>
<rect x="1643.42" y="1760.06" width="48.8" height="7.19" fill="#E6AB02"/>
<rect x="1701.55" y="1634.7" width="48.8" height="56.76" fill="#D95F02"/>
<rect x="1701.55" y="1696.26" width="48.8" height="6.89" fill="#7570B3"/>
<rect x="1701.55" y="1707.94" width="48.8" height="19.84" fill="#E7298A"/>
<rect x="1701.55" y="1735.42" width="48.8" height="31.83" fill="#E6AB02"/>
<rect x="1759.69" y="1634.7" width="48.8" height="38.44" fill="#D95F02"/>
<rect x="1759.69" y="1677.94" width="48.8" height="10.36" fill="#7570B3"/>
<rect x="1759.69" y="1693.1" width="48.8" height="32.47" fill="#E7298A"/>
<rect x="1759.69" y="1730.37" width="48.8" height="1.52" fill="#66A61E"/>
<rect x="1759.69" y="1736.69" width="48.8" height="30.56" fill="#E6AB02"/>
<rect x="1817.82" y="1634.7" width="48.8" height="47.91" fill="#D95F02"/>
<rect x="1817.82" y="1687.41" width="48.8" height="5.94" fill="#7570B3"/>
<rect x="1817.82" y="1698.15" width="48.8" height="32.16" fill="#E7298A"/>
<rect x="1817.82" y="1735.11" width="48.8" height="5.62" fill="#66A61E"/>
<rect x="1817.82" y="1745.53" width="48.8" height="21.72" fill="#E6AB02"/>
<rect x="1875.96" y="1634.7" width="48.8" height="64.65" fill="#D95F02"/>
<rect x="1875.96" y="1704.15" width="48.8" height="16.05" fill="#7570B3"/>
<rect x="1875.96" y="1725" width="48.8" height="25.52" fill="#E7298A"/>
<rect x="1875.96" y="1754.69" width="48.8" height="1.2" fill="#66A61E" opacity="0.75"/>
<rect x="1875.96" y="1760.06" width="48.8" height="7.19" fill="#E6AB02"/>
<rect x="1934.09" y="1634.7" width="48.8" height="47.91" fill="#D95F02"/>
<rect x="1934.09" y="1687.41" width="48.8" height="8.47" fill="#7570B3"/>
<rect x="1934.09" y="1700.68" width="48.8" height="35" fill="#E7298A"/>
<rect x="1934.09" y="1740.48" width="48.8" height="6.57" fill="#66A61E"/>
<rect x="1934.09" y="1751.85" width="48.8" height="15.4" fill="#E6AB02"/>
<rect x="1992.23" y="1634.7" width="48.8" height="40.33" fill="#D95F02"/>
<rect x="1992.23" y="1679.83" width="48.8" height="9.1" fill="#7570B3"/>
<rect x="1992.23" y="1693.73" width="48.8" height="43.53" fill="#E7298A"/>
<rect x="1992.23" y="1742.06" width="48.8" height="7.52" fill="#66A61E"/>
<rect x="1992.23" y="1754.37" width="48.8" height="12.88" fill="#E6AB02"/>
<rect x="2050.36" y="1634.7" width="48.8" height="59.28" fill="#D95F02"/>
<rect x="2050.36" y="1698.78" width="48.8" height="15.1" fill="#7570B3"/>
<rect x="2050.36" y="1718.68" width="48.8" height="29.63" fill="#E7298A"/>
<rect x="2050.36" y="1753.11" width="48.8" height="3.73" fill="#66A61E"/>
<rect x="2050.36" y="1761.64" width="48.8" height="5.61" fill="#E6AB02"/>
<rect x="2108.5" y="1634.7" width="48.8" height="63.07" fill="#D95F02"/>
<rect x="2108.5" y="1702.57" width="48.8" height="19.52" fill="#7570B3"/>
<rect x="2108.5" y="1726.89" width="48.8" height="25.52" fill="#E7298A"/>
<rect x="2108.5" y="1756.9" width="48.8" height="1.2" fill="#66A61E" opacity="0.75"/>
<rect x="2108.5" y="1762.59" width="48.8" height="4.66" fill="#E6AB02"/>
<line x1="122.3" y1="1631.8" x2="122.3" y2="1770.95" stroke="#000" stroke-width="2.6"/>
<line x1="121" y1="1770.1" x2="2166" y2="1770.1" stroke="#000" stroke-width="2.9"/>
<line x1="110" y1="1770.25" x2="122" y2="1770.25" stroke="#000" stroke-width="2.8"/>
<text x="106" y="1779.55" text-anchor="end" font-family="'Liberation Sans', Arial, Helvetica, sans-serif" font-size="29.3" letter-spacing="0.8">0.00</text>
<line x1="110" y1="1735.91" x2="122" y2="1735.91" stroke="#000" stroke-width="2.8"/>
<text x="106" y="1745.21" text-anchor="end" font-family="'Liberation Sans', Arial, Helvetica, sans-serif" font-size="29.3" letter-spacing="0.8">0.25</text>
<line x1="110" y1="1701.57" x2="122" y2="1701.57" stroke="#000" stroke-width="2.8"/>
<text x="106" y="1710.87" text-anchor="end" font-family="'Liberation Sans', Arial, Helvetica, sans-serif" font-size="29.3" letter-spacing="0.8">0.50</text>
<line x1="110" y1="1667.24" x2="122" y2="1667.24" stroke="#000" stroke-width="2.8"/>
<text x="106" y="1676.54" text-anchor="end" font-family="'Liberation Sans', Arial, Helvetica, sans-serif" font-size="29.3" letter-spacing="0.8">0.75</text>
<line x1="110" y1="1632.9" x2="122" y2="1632.9" stroke="#000" stroke-width="2.8"/>
<text x="106" y="1642.2" text-anchor="end" font-family="'Liberation Sans', Arial, Helvetica, sans-serif" font-size="29.3" letter-spacing="0.8">1.00</text>
<rect x="122.7" y="1798" width="2043.3" height="53.5" fill="#fff" stroke="#5a5a5a" stroke-width="2.1"/>
<text x="1145.05" y="1832.3" text-anchor="middle" font-family="'Liberation Sans', Arial, Helvetica, sans-serif" font-weight="bold" font-size="24.3" letter-spacing="-0.3">Stomach Cancer</text>
<rect x="132.4" y="1853.9" width="46.6" height="15.9" fill="#D95F02"/>
<rect x="132.4" y="1874.6" width="46.6" height="27.32" fill="#7570B3"/>
<rect x="132.4" y="1906.73" width="46.6" height="32.25" fill="#E7298A"/>
<rect x="132.4" y="1946.36" width="46.6" height="40.09" fill="#E6AB02"/>
<rect x="188.91" y="1853.9" width="46.6" height="75.49" fill="#D95F02"/>
<rect x="188.91" y="1934.19" width="46.6" height="3.23" fill="#7570B3"/>
<rect x="188.91" y="1942.22" width="46.6" height="20.07" fill="#E7298A"/>
<rect x="188.91" y="1967.09" width="46.6" height="12.04" fill="#66A61E"/>
<rect x="188.91" y="1983.93" width="46.6" height="2.52" fill="#E6AB02"/>
<rect x="245.42" y="1853.9" width="46.6" height="56.06" fill="#D95F02"/>
<rect x="245.42" y="1914.76" width="46.6" height="14.89" fill="#7570B3"/>
<rect x="245.42" y="1934.45" width="46.6" height="15.93" fill="#E7298A"/>
<rect x="245.42" y="1955.17" width="46.6" height="10.48" fill="#66A61E"/>
<rect x="245.42" y="1970.46" width="46.6" height="15.99" fill="#E6AB02"/>
<rect x="301.93" y="1853.9" width="46.6" height="16.42" fill="#D95F02"/>
<rect x="301.93" y="1875.12" width="46.6" height="24.22" fill="#7570B3"/>
<rect x="301.93" y="1904.14" width="46.6" height="29.14" fill="#E7298A"/>
<rect x="301.93" y="1941.7" width="46.6" height="44.75" fill="#E6AB02"/>
<rect x="358.43" y="1853.9" width="46.6" height="34.04" fill="#D95F02"/>
<rect x="358.43" y="1892.74" width="46.6" height="2.19" fill="#7570B3"/>
<rect x="358.43" y="1899.73" width="46.6" height="54.27" fill="#E7298A"/>
<rect x="358.43" y="1958.8" width="46.6" height="7.89" fill="#66A61E"/>
<rect x="358.43" y="1971.49" width="46.6" height="14.96" fill="#E6AB02"/>
<rect x="414.94" y="1853.9" width="46.6" height="41.81" fill="#D95F02"/>
<rect x="414.94" y="1904.91" width="46.6" height="43.13" fill="#E7298A"/>
<rect x="414.94" y="1952.84" width="46.6" height="9.71" fill="#66A61E"/>
<rect x="414.94" y="1967.35" width="46.6" height="19.1" fill="#E6AB02"/>
<rect x="471.45" y="1853.9" width="46.6" height="39.74" fill="#D95F02"/>
<rect x="471.45" y="1898.44" width="46.6" height="6.86" fill="#7570B3"/>
<rect x="471.45" y="1910.09" width="46.6" height="39.5" fill="#E7298A"/>
<rect x="471.45" y="1954.39" width="46.6" height="4.01" fill="#66A61E"/>
<rect x="471.45" y="1963.2" width="46.6" height="23.25" fill="#E6AB02"/>
<rect x="527.96" y="1853.9" width="46.6" height="43.1" fill="#D95F02"/>
<rect x="527.96" y="1906.21" width="46.6" height="57.64" fill="#E7298A"/>
<rect x="527.96" y="1968.64" width="46.6" height="7.38" fill="#66A61E"/>
<rect x="527.96" y="1980.82" width="46.6" height="5.63" fill="#E6AB02"/>
<rect x="584.47" y="1853.9" width="46.6" height="64.61" fill="#D95F02"/>
<rect x="584.47" y="1923.31" width="46.6" height="9.97" fill="#7570B3"/>
<rect x="584.47" y="1938.07" width="46.6" height="25.51" fill="#E7298A"/>
<rect x="584.47" y="1968.38" width="46.6" height="8.93" fill="#66A61E"/>
<rect x="584.47" y="1982.12" width="46.6" height="4.33" fill="#E6AB02"/>
<rect x="640.98" y="1853.9" width="46.6" height="65.64" fill="#D95F02"/>
<rect x="640.98" y="1924.34" width="46.6" height="5.82" fill="#7570B3"/>
<rect x="640.98" y="1934.96" width="46.6" height="26.81" fill="#E7298A"/>
<rect x="640.98" y="1966.57" width="46.6" height="13.85" fill="#66A61E"/>
<rect x="640.98" y="1985.22" width="46.6" height="1.23" fill="#E6AB02"/>
<rect x="697.49" y="1853.9" width="46.6" height="48.8" fill="#D95F02"/>
<rect x="697.49" y="1911.39" width="46.6" height="43.13" fill="#E7298A"/>
<rect x="697.49" y="1959.32" width="46.6" height="12.04" fill="#66A61E"/>
<rect x="697.49" y="1976.16" width="46.6" height="10.29" fill="#E6AB02"/>
<rect x="753.99" y="1853.9" width="46.6" height="48.8" fill="#D95F02"/>
<rect x="753.99" y="1907.5" width="46.6" height="9.19" fill="#7570B3"/>
<rect x="753.99" y="1921.49" width="46.6" height="42.09" fill="#E7298A"/>
<rect x="753.99" y="1968.38" width="46.6" height="9.45" fill="#66A61E"/>
<rect x="753.99" y="1982.63" width="46.6" height="3.82" fill="#E6AB02"/>
<rect x="810.5" y="1853.9" width="46.6" height="35.85" fill="#D95F02"/>
<rect x="810.5" y="1894.55" width="46.6" height="10.23" fill="#7570B3"/>
<rect x="810.5" y="1909.58" width="46.6" height="37.17" fill="#E7298A"/>
<rect x="810.5" y="1951.55" width="46.6" height="2.45" fill="#66A61E"/>
<rect x="810.5" y="1958.8" width="46.6" height="27.65" fill="#E6AB02"/>
<rect x="867.01" y="1853.9" width="46.6" height="6.32" fill="#D95F02"/>
<rect x="867.01" y="1865.02" width="46.6" height="15.41" fill="#7570B3"/>
<rect x="867.01" y="1885.22" width="46.6" height="43.9" fill="#E7298A"/>
<rect x="867.01" y="1933.93" width="46.6" height="52.52" fill="#E6AB02"/>
<rect x="923.52" y="1853.9" width="46.6" height="34.04" fill="#D95F02"/>
<rect x="923.52" y="1892.74" width="46.6" height="8.93" fill="#7570B3"/>
<rect x="923.52" y="1906.47" width="46.6" height="34.58" fill="#E7298A"/>
<rect x="923.52" y="1945.85" width="46.6" height="4.79" fill="#66A61E"/>
<rect x="923.52" y="1955.43" width="46.6" height="31.02" fill="#E6AB02"/>
<rect x="980.03" y="1853.9" width="46.6" height="45.69" fill="#D95F02"/>
<rect x="980.03" y="1903.99" width="46.6" height="1.2" fill="#7570B3" opacity="0.75"/>
<rect x="980.03" y="1909.58" width="46.6" height="51.42" fill="#E7298A"/>
<rect x="980.03" y="1965.79" width="46.6" height="8.93" fill="#66A61E"/>
<rect x="980.03" y="1979.52" width="46.6" height="6.93" fill="#E6AB02"/>
<rect x="1036.54" y="1853.9" width="46.6" height="53.47" fill="#D95F02"/>
<rect x="1036.54" y="1912.17" width="46.6" height="5.04" fill="#7570B3"/>
<rect x="1036.54" y="1922.01" width="46.6" height="38.98" fill="#E7298A"/>
<rect x="1036.54" y="1965.79" width="46.6" height="13.59" fill="#66A61E"/>
<rect x="1036.54" y="1984.19" width="46.6" height="2.26" fill="#E6AB02"/>
<rect x="1093.05" y="1853.9" width="46.6" height="28.34" fill="#D95F02"/>
<rect x="1093.05" y="1887.04" width="46.6" height="1.42" fill="#7570B3"/>
<rect x="1093.05" y="1893.25" width="46.6" height="59.45" fill="#E7298A"/>
<rect x="1093.05" y="1957.5" width="46.6" height="6.08" fill="#66A61E"/>
<rect x="1093.05" y="1968.38" width="46.6" height="18.07" fill="#E6AB02"/>
<rect x="1149.55" y="1853.9" width="46.6" height="34.04" fill="#D95F02"/>
<rect x="1149.55" y="1892.74" width="46.6" height="4.79" fill="#7570B3"/>
<rect x="1149.55" y="1902.32" width="46.6" height="58.67" fill="#E7298A"/>
<rect x="1149.55" y="1965.79" width="46.6" height="9.45" fill="#66A61E"/>
<rect x="1149.55" y="1980.04" width="46.6" height="6.41" fill="#E6AB02"/>
<rect x="1206.06" y="1853.9" width="46.6" height="58.13" fill="#D95F02"/>
<rect x="1206.06" y="1916.83" width="46.6" height="7.38" fill="#7570B3"/>
<rect x="1206.06" y="1929.01" width="46.6" height="36.65" fill="#E7298A"/>
<rect x="1206.06" y="1970.46" width="46.6" height="6.86" fill="#66A61E"/>
<rect x="1206.06" y="1982.12" width="46.6" height="4.33" fill="#E6AB02"/>
<rect x="1262.57" y="1853.9" width="46.6" height="52.95" fill="#D95F02"/>
<rect x="1262.57" y="1911.65" width="46.6" height="3.49" fill="#7570B3"/>
<rect x="1262.57" y="1919.94" width="46.6" height="31.99" fill="#E7298A"/>
<rect x="1262.57" y="1956.73" width="46.6" height="10.74" fill="#66A61E"/>
<rect x="1262.57" y="1972.27" width="46.6" height="14.18" fill="#E6AB02"/>
<rect x="1319.08" y="1853.9" width="46.6" height="49.58" fill="#D95F02"/>
<rect x="1319.08" y="1908.28" width="46.6" height="4.27" fill="#7570B3"/>
<rect x="1319.08" y="1917.35" width="46.6" height="47.53" fill="#E7298A"/>
<rect x="1319.08" y="1969.68" width="46.6" height="10.23" fill="#66A61E"/>
<rect x="1319.08" y="1984.71" width="46.6" height="1.74" fill="#E6AB02"/>
<rect x="1375.59" y="1853.9" width="46.6" height="39.22" fill="#D95F02"/>
<rect x="1375.59" y="1897.92" width="46.6" height="3.75" fill="#7570B3"/>
<rect x="1375.59" y="1906.47" width="46.6" height="40.54" fill="#E7298A"/>
<rect x="1375.59" y="1951.8" width="46.6" height="7.38" fill="#66A61E"/>
<rect x="1375.59" y="1963.98" width="46.6" height="22.47" fill="#E6AB02"/>
<rect x="1432.1" y="1853.9" width="46.6" height="46.99" fill="#D95F02"/>
<rect x="1432.1" y="1905.69" width="46.6" height="3.49" fill="#7570B3"/>
<rect x="1432.1" y="1913.98" width="46.6" height="47.79" fill="#E7298A"/>
<rect x="1432.1" y="1966.57" width="46.6" height="12.82" fill="#66A61E"/>
<rect x="1432.1" y="1984.19" width="46.6" height="2.26" fill="#E6AB02"/>
<rect x="1488.61" y="1853.9" width="46.6" height="28.08" fill="#D95F02"/>
<rect x="1488.61" y="1886.78" width="46.6" height="6.34" fill="#7570B3"/>
<rect x="1488.61" y="1897.92" width="46.6" height="54.01" fill="#E7298A"/>
<rect x="1488.61" y="1956.73" width="46.6" height="9.71" fill="#66A61E"/>
<rect x="1488.61" y="1971.23" width="46.6" height="15.22" fill="#E6AB02"/>
<rect x="1545.11" y="1853.9" width="46.6" height="18.55" fill="#D95F02"/>
<rect x="1545.11" y="1877.25" width="46.6" height="57.46" fill="#7570B3"/>
<rect x="1545.11" y="1939.51" width="46.6" height="26.01" fill="#E7298A"/>
<rect x="1545.11" y="1973.2" width="46.6" height="13.25" fill="#E6AB02"/>
<rect x="1601.62" y="1853.9" width="46.6" height="41.97" fill="#D95F02"/>
<rect x="1601.62" y="1900.67" width="46.6" height="2.26" fill="#7570B3"/>
<rect x="1601.62" y="1907.73" width="46.6" height="52" fill="#E7298A"/>
<rect x="1601.62" y="1964.54" width="46.6" height="12.85" fill="#66A61E"/>
<rect x="1601.62" y="1982.19" width="46.6" height="4.26" fill="#E6AB02"/>
<rect x="1658.13" y="1853.9" width="46.6" height="13.73" fill="#D95F02"/>
<rect x="1658.13" y="1872.43" width="46.6" height="16.7" fill="#7570B3"/>
<rect x="1658.13" y="1893.93" width="46.6" height="73.83" fill="#E7298A"/>
<rect x="1658.13" y="1972.56" width="46.6" height="2.9" fill="#66A61E"/>
<rect x="1658.13" y="1980.26" width="46.6" height="6.19" fill="#E6AB02"/>
<rect x="1714.64" y="1853.9" width="46.6" height="22.4" fill="#D95F02"/>
<rect x="1714.64" y="1881.1" width="46.6" height="13.49" fill="#7570B3"/>
<rect x="1714.64" y="1899.39" width="46.6" height="66.12" fill="#E7298A"/>
<rect x="1714.64" y="1970.31" width="46.6" height="7.07" fill="#66A61E"/>
<rect x="1714.64" y="1982.19" width="46.6" height="4.26" fill="#E6AB02"/>
<rect x="1771.15" y="1853.9" width="46.6" height="47.43" fill="#D95F02"/>
<rect x="1771.15" y="1906.13" width="46.6" height="5.15" fill="#7570B3"/>
<rect x="1771.15" y="1916.08" width="46.6" height="45.91" fill="#E7298A"/>
<rect x="1771.15" y="1966.78" width="46.6" height="14.13" fill="#66A61E"/>
<rect x="1771.15" y="1985.48" width="46.6" height="1.2" fill="#E6AB02" opacity="0.75"/>
<rect x="1827.66" y="1853.9" width="46.6" height="11.16" fill="#D95F02"/>
<rect x="1827.66" y="1869.86" width="46.6" height="22.48" fill="#7570B3"/>
<rect x="1827.66" y="1897.14" width="46.6" height="69.01" fill="#E7298A"/>
<rect x="1827.66" y="1975.13" width="46.6" height="11.32" fill="#E6AB02"/>
<rect x="1884.17" y="1853.9" width="46.6" height="47.43" fill="#D95F02"/>
<rect x="1884.17" y="1906.13" width="46.6" height="23.76" fill="#7570B3"/>
<rect x="1884.17" y="1934.69" width="46.6" height="33.07" fill="#E7298A"/>
<rect x="1884.17" y="1972.56" width="46.6" height="4.51" fill="#66A61E"/>
<rect x="1884.17" y="1981.87" width="46.6" height="4.58" fill="#E6AB02"/>
<rect x="1940.67" y="1853.9" width="46.6" height="16.3" fill="#D95F02"/>
<rect x="1940.67" y="1875" width="46.6" height="15.42" fill="#7570B3"/>
<rect x="1940.67" y="1895.22" width="46.6" height="54.57" fill="#E7298A"/>
<rect x="1940.67" y="1954" width="46.6" height="1.2" fill="#66A61E" opacity="0.75"/>
<rect x="1940.67" y="1959.4" width="46.6" height="27.05" fill="#E6AB02"/>
<rect x="1997.18" y="1853.9" width="46.6" height="41.97" fill="#D95F02"/>
<rect x="1997.18" y="1900.67" width="46.6" height="2.26" fill="#7570B3"/>
<rect x="1997.18" y="1907.73" width="46.6" height="59.38" fill="#E7298A"/>
<rect x="1997.18" y="1971.92" width="46.6" height="8.36" fill="#66A61E"/>
<rect x="1997.18" y="1985.08" width="46.6" height="1.37" fill="#E6AB02"/>
<rect x="2053.69" y="1853.9" width="46.6" height="44.86" fill="#D95F02"/>
<rect x="2053.69" y="1903.56" width="46.6" height="2.9" fill="#7570B3"/>
<rect x="2053.69" y="1911.26" width="46.6" height="56.82" fill="#E7298A"/>
<rect x="2053.69" y="1972.88" width="46.6" height="6.11" fill="#66A61E"/>
<rect x="2053.69" y="1983.79" width="46.6" height="2.66" fill="#E6AB02"/>
<rect x="2110.2" y="1853.9" width="46.6" height="22.72" fill="#D95F02"/>
<rect x="2110.2" y="1881.42" width="46.6" height="29.54" fill="#7570B3"/>
<rect x="2110.2" y="1915.76" width="46.6" height="42.38" fill="#E7298A"/>
<rect x="2110.2" y="1962.66" width="46.6" height="1.2" fill="#66A61E" opacity="0.75"/>
<rect x="2110.2" y="1968.39" width="46.6" height="18.06" fill="#E6AB02"/>
<line x1="122.3" y1="1851" x2="122.3" y2="1990.15" stroke="#000" stroke-width="2.6"/>
<line x1="121" y1="1989.3" x2="2166" y2="1989.3" stroke="#000" stroke-width="2.9"/>
<line x1="110" y1="1989.45" x2="122" y2="1989.45" stroke="#000" stroke-width="2.8"/>
<text x="106" y="1998.75" text-anchor="end" font-family="'Liberation Sans', Arial, Helvetica, sans-serif" font-size="29.3" letter-spacing="0.8">0.00</text>
<line x1="110" y1="1955.11" x2="122" y2="1955.11" stroke="#000" stroke-width="2.8"/>
<text x="106" y="1964.41" text-anchor="end" font-family="'Liberation Sans', Arial, Helvetica, sans-serif" font-size="29.3" letter-spacing="0.8">0.25</text>
<line x1="110" y1="1920.77" x2="122" y2="1920.77" stroke="#000" stroke-width="2.8"/>
<text x="106" y="1930.07" text-anchor="end" font-family="'Liberation Sans', Arial, Helvetica, sans-serif" font-size="29.3" letter-spacing="0.8">0.50</text>
<line x1="110" y1="1886.44" x2="122" y2="1886.44" stroke="#000" stroke-width="2.8"/>
<text x="106" y="1895.74" text-anchor="end" font-family="'Liberation Sans', Arial, Helvetica, sans-serif" font-size="29.3" letter-spacing="0.8">0.75</text>
<line x1="110" y1="1852.1" x2="122" y2="1852.1" stroke="#000" stroke-width="2.8"/>
<text x="106" y="1861.4" text-anchor="end" font-family="'Liberation Sans', Arial, Helvetica, sans-serif" font-size="29.3" letter-spacing="0.8">1.00</text>
<text transform="translate(25.0,1372.0) rotate(-90)" text-anchor="middle" font-family="'Liberation Sans', Arial, Helvetica, sans-serif" font-size="30.3" letter-spacing="0.2">normalized count fraction</text>
<text x="1144.5" y="2030.9" text-anchor="middle" font-family="'Liberation Sans', Arial, Helvetica, sans-serif" font-size="30">sample</text>
</svg>
</body></html>
